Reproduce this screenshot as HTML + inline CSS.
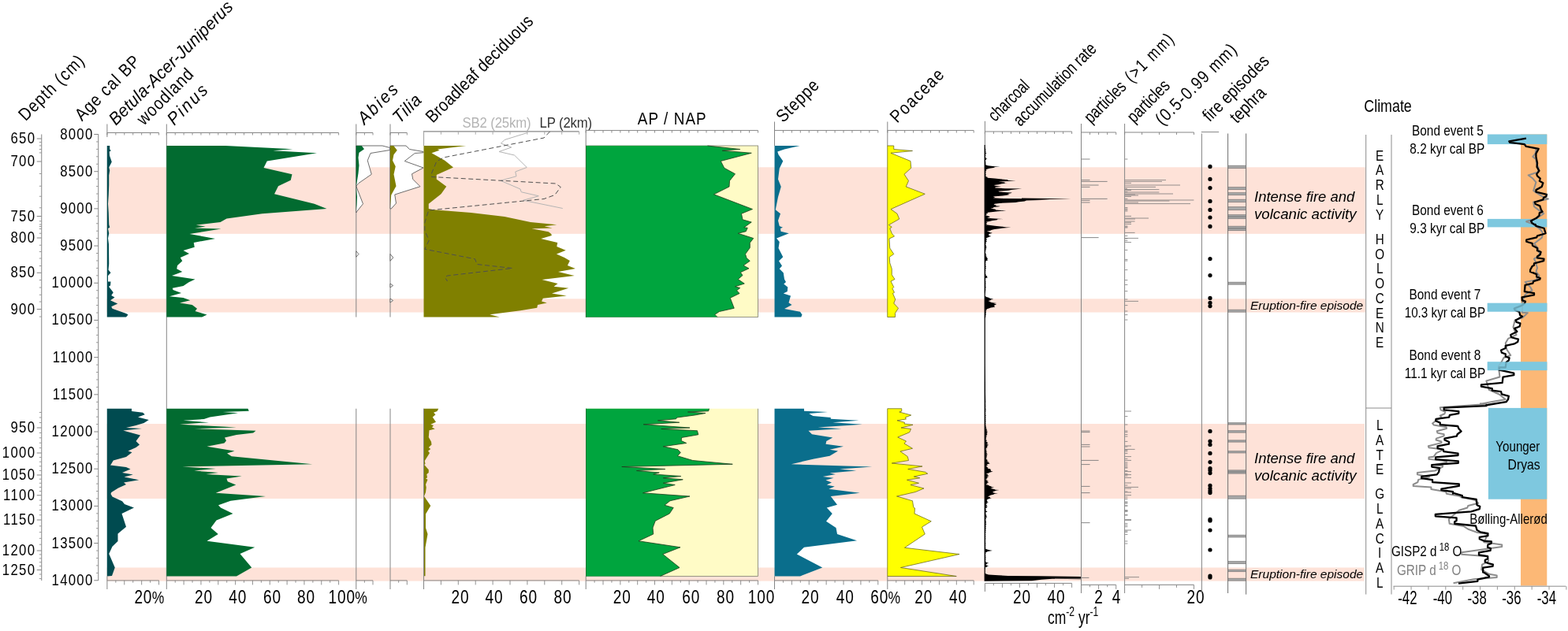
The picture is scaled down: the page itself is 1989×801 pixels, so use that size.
<!DOCTYPE html>
<html lang="en"><head><meta charset="utf-8"><title>Pollen, charcoal and climate diagram</title>
<style>
html,body{margin:0;padding:0;background:#fff;}
body{width:1989px;height:801px;overflow:hidden;}
svg{display:block;font-family:"Liberation Sans",Arial,Helvetica,sans-serif;}
text{white-space:pre;}
</style></head><body>
<svg width="1989" height="801" viewBox="0 0 1989 801">
<rect x="0" y="0" width="1989" height="801" fill="#ffffff"/>
<rect x="135.5" y="212.3" width="1596.4" height="84.5" fill="#FEE2D8"/>
<rect x="135.5" y="379.3" width="1596.4" height="17.2" fill="#FEE2D8"/>
<rect x="135.5" y="538" width="1595.5" height="95" fill="#FEE2D8"/>
<rect x="135.5" y="720.5" width="1595.1" height="17.1" fill="#FEE2D8"/>
<line x1="52.75" y1="170.5" x2="52.75" y2="737" stroke="#858585" stroke-width="1"/>
<line x1="49.75" y1="180.5" x2="52.75" y2="180.5" stroke="#858585" stroke-width="0.8"/>
<line x1="49.75" y1="184.9" x2="52.75" y2="184.9" stroke="#858585" stroke-width="0.8"/>
<line x1="49.75" y1="189.5" x2="52.75" y2="189.5" stroke="#858585" stroke-width="0.8"/>
<line x1="49.75" y1="193.9" x2="52.75" y2="193.9" stroke="#858585" stroke-width="0.8"/>
<line x1="49.75" y1="220.5" x2="52.75" y2="220.5" stroke="#858585" stroke-width="0.8"/>
<line x1="49.75" y1="236.25" x2="52.75" y2="236.25" stroke="#858585" stroke-width="0.8"/>
<line x1="49.75" y1="249.25" x2="52.75" y2="249.25" stroke="#858585" stroke-width="0.8"/>
<line x1="49.75" y1="263.75" x2="52.75" y2="263.75" stroke="#858585" stroke-width="0.8"/>
<line x1="49.75" y1="280.75" x2="52.75" y2="280.75" stroke="#858585" stroke-width="0.8"/>
<line x1="49.75" y1="285" x2="52.75" y2="285" stroke="#858585" stroke-width="0.8"/>
<line x1="49.75" y1="287.5" x2="52.75" y2="287.5" stroke="#858585" stroke-width="0.8"/>
<line x1="49.75" y1="290.5" x2="52.75" y2="290.5" stroke="#858585" stroke-width="0.8"/>
<line x1="49.75" y1="296.25" x2="52.75" y2="296.25" stroke="#858585" stroke-width="0.8"/>
<line x1="49.75" y1="311.25" x2="52.75" y2="311.25" stroke="#858585" stroke-width="0.8"/>
<line x1="49.75" y1="319.5" x2="52.75" y2="319.5" stroke="#858585" stroke-width="0.8"/>
<line x1="49.75" y1="328" x2="52.75" y2="328" stroke="#858585" stroke-width="0.8"/>
<line x1="49.75" y1="337.5" x2="52.75" y2="337.5" stroke="#858585" stroke-width="0.8"/>
<line x1="49.75" y1="355.5" x2="52.75" y2="355.5" stroke="#858585" stroke-width="0.8"/>
<line x1="49.75" y1="365" x2="52.75" y2="365" stroke="#858585" stroke-width="0.8"/>
<line x1="49.75" y1="374.25" x2="52.75" y2="374.25" stroke="#858585" stroke-width="0.8"/>
<line x1="49.75" y1="383" x2="52.75" y2="383" stroke="#858585" stroke-width="0.8"/>
<line x1="49.75" y1="402" x2="52.75" y2="402" stroke="#858585" stroke-width="0.8"/>
<line x1="49.75" y1="549.4" x2="52.75" y2="549.4" stroke="#858585" stroke-width="0.8"/>
<line x1="49.75" y1="555.8" x2="52.75" y2="555.8" stroke="#858585" stroke-width="0.8"/>
<line x1="49.75" y1="562.2" x2="52.75" y2="562.2" stroke="#858585" stroke-width="0.8"/>
<line x1="49.75" y1="568.6" x2="52.75" y2="568.6" stroke="#858585" stroke-width="0.8"/>
<line x1="49.75" y1="580.6" x2="52.75" y2="580.6" stroke="#858585" stroke-width="0.8"/>
<line x1="49.75" y1="586.2" x2="52.75" y2="586.2" stroke="#858585" stroke-width="0.8"/>
<line x1="49.75" y1="591.8" x2="52.75" y2="591.8" stroke="#858585" stroke-width="0.8"/>
<line x1="49.75" y1="597.4" x2="52.75" y2="597.4" stroke="#858585" stroke-width="0.8"/>
<line x1="49.75" y1="608.15" x2="52.75" y2="608.15" stroke="#858585" stroke-width="0.8"/>
<line x1="49.75" y1="613.3" x2="52.75" y2="613.3" stroke="#858585" stroke-width="0.8"/>
<line x1="49.75" y1="618.45" x2="52.75" y2="618.45" stroke="#858585" stroke-width="0.8"/>
<line x1="49.75" y1="623.6" x2="52.75" y2="623.6" stroke="#858585" stroke-width="0.8"/>
<line x1="49.75" y1="635" x2="52.75" y2="635" stroke="#858585" stroke-width="0.8"/>
<line x1="49.75" y1="641.25" x2="52.75" y2="641.25" stroke="#858585" stroke-width="0.8"/>
<line x1="49.75" y1="647.5" x2="52.75" y2="647.5" stroke="#858585" stroke-width="0.8"/>
<line x1="49.75" y1="653.75" x2="52.75" y2="653.75" stroke="#858585" stroke-width="0.8"/>
<line x1="49.75" y1="667.8" x2="52.75" y2="667.8" stroke="#858585" stroke-width="0.8"/>
<line x1="49.75" y1="675.6" x2="52.75" y2="675.6" stroke="#858585" stroke-width="0.8"/>
<line x1="49.75" y1="683.4" x2="52.75" y2="683.4" stroke="#858585" stroke-width="0.8"/>
<line x1="49.75" y1="691.2" x2="52.75" y2="691.2" stroke="#858585" stroke-width="0.8"/>
<line x1="49.75" y1="703.9" x2="52.75" y2="703.9" stroke="#858585" stroke-width="0.8"/>
<line x1="49.75" y1="708.8" x2="52.75" y2="708.8" stroke="#858585" stroke-width="0.8"/>
<line x1="49.75" y1="713.7" x2="52.75" y2="713.7" stroke="#858585" stroke-width="0.8"/>
<line x1="49.75" y1="718.6" x2="52.75" y2="718.6" stroke="#858585" stroke-width="0.8"/>
<line x1="49.75" y1="536.5" x2="52.75" y2="536.5" stroke="#858585" stroke-width="0.8"/>
<line x1="49.75" y1="530" x2="52.75" y2="530" stroke="#858585" stroke-width="0.8"/>
<line x1="49.75" y1="523.5" x2="52.75" y2="523.5" stroke="#858585" stroke-width="0.8"/>
<line x1="49.75" y1="729" x2="52.75" y2="729" stroke="#858585" stroke-width="0.8"/>
<line x1="49.75" y1="734.5" x2="52.75" y2="734.5" stroke="#858585" stroke-width="0.8"/>
<line x1="46.75" y1="176" x2="52.75" y2="176" stroke="#858585" stroke-width="1"/>
<text transform="translate(44,182) translate(-30.55,0) scale(0.84,1)" style="font-size:20px;letter-spacing:1.5px;" fill="#000">650</text>
<line x1="46.75" y1="205" x2="52.75" y2="205" stroke="#858585" stroke-width="1"/>
<text transform="translate(44,211) translate(-30.55,0) scale(0.84,1)" style="font-size:20px;letter-spacing:1.5px;" fill="#000">700</text>
<line x1="46.75" y1="274.5" x2="52.75" y2="274.5" stroke="#858585" stroke-width="1"/>
<text transform="translate(44,280.5) translate(-30.55,0) scale(0.84,1)" style="font-size:20px;letter-spacing:1.5px;" fill="#000">750</text>
<line x1="46.75" y1="302" x2="52.75" y2="302" stroke="#858585" stroke-width="1"/>
<text transform="translate(44,308) translate(-30.55,0) scale(0.84,1)" style="font-size:20px;letter-spacing:1.5px;" fill="#000">800</text>
<line x1="46.75" y1="346.25" x2="52.75" y2="346.25" stroke="#858585" stroke-width="1"/>
<text transform="translate(44,352.25) translate(-30.55,0) scale(0.84,1)" style="font-size:20px;letter-spacing:1.5px;" fill="#000">850</text>
<line x1="46.75" y1="392.5" x2="52.75" y2="392.5" stroke="#858585" stroke-width="1"/>
<text transform="translate(44,398.5) translate(-30.55,0) scale(0.84,1)" style="font-size:20px;letter-spacing:1.5px;" fill="#000">900</text>
<line x1="46.75" y1="543" x2="52.75" y2="543" stroke="#858585" stroke-width="1"/>
<text transform="translate(44,549) translate(-30.55,0) scale(0.84,1)" style="font-size:20px;letter-spacing:1.5px;" fill="#000">950</text>
<line x1="46.75" y1="575" x2="52.75" y2="575" stroke="#858585" stroke-width="1"/>
<text transform="translate(44,581) translate(-41.15,0) scale(0.84,1)" style="font-size:20px;letter-spacing:1.5px;" fill="#000">1000</text>
<line x1="46.75" y1="603" x2="52.75" y2="603" stroke="#858585" stroke-width="1"/>
<text transform="translate(44,609) translate(-41.15,0) scale(0.84,1)" style="font-size:20px;letter-spacing:1.5px;" fill="#000">1050</text>
<line x1="46.75" y1="628.75" x2="52.75" y2="628.75" stroke="#858585" stroke-width="1"/>
<text transform="translate(44,634.75) translate(-39.91,0) scale(0.84,1)" style="font-size:20px;letter-spacing:1.5px;" fill="#000">1100</text>
<line x1="46.75" y1="660" x2="52.75" y2="660" stroke="#858585" stroke-width="1"/>
<text transform="translate(44,666) translate(-39.91,0) scale(0.84,1)" style="font-size:20px;letter-spacing:1.5px;" fill="#000">1150</text>
<line x1="46.75" y1="699" x2="52.75" y2="699" stroke="#858585" stroke-width="1"/>
<text transform="translate(44,705) translate(-41.15,0) scale(0.84,1)" style="font-size:20px;letter-spacing:1.5px;" fill="#000">1200</text>
<line x1="46.75" y1="723.5" x2="52.75" y2="723.5" stroke="#858585" stroke-width="1"/>
<text transform="translate(44,729.5) translate(-41.15,0) scale(0.84,1)" style="font-size:20px;letter-spacing:1.5px;" fill="#000">1250</text>
<line x1="124.75" y1="170.3" x2="124.75" y2="737" stroke="#858585" stroke-width="1"/>
<line x1="119.25" y1="170.5" x2="124.75" y2="170.5" stroke="#858585" stroke-width="1"/>
<text transform="translate(117.3,176.5) translate(-41.15,0) scale(0.84,1)" style="font-size:20px;letter-spacing:1.5px;" fill="#000">8000</text>
<line x1="121.95" y1="179.94" x2="124.75" y2="179.94" stroke="#858585" stroke-width="0.8"/>
<line x1="121.95" y1="189.38" x2="124.75" y2="189.38" stroke="#858585" stroke-width="0.8"/>
<line x1="121.95" y1="198.81" x2="124.75" y2="198.81" stroke="#858585" stroke-width="0.8"/>
<line x1="121.95" y1="208.25" x2="124.75" y2="208.25" stroke="#858585" stroke-width="0.8"/>
<line x1="119.25" y1="217.69" x2="124.75" y2="217.69" stroke="#858585" stroke-width="1"/>
<text transform="translate(117.3,223.69) translate(-41.15,0) scale(0.84,1)" style="font-size:20px;letter-spacing:1.5px;" fill="#000">8500</text>
<line x1="121.95" y1="227.13" x2="124.75" y2="227.13" stroke="#858585" stroke-width="0.8"/>
<line x1="121.95" y1="236.57" x2="124.75" y2="236.57" stroke="#858585" stroke-width="0.8"/>
<line x1="121.95" y1="246" x2="124.75" y2="246" stroke="#858585" stroke-width="0.8"/>
<line x1="121.95" y1="255.44" x2="124.75" y2="255.44" stroke="#858585" stroke-width="0.8"/>
<line x1="119.25" y1="264.88" x2="124.75" y2="264.88" stroke="#858585" stroke-width="1"/>
<text transform="translate(117.3,270.88) translate(-41.15,0) scale(0.84,1)" style="font-size:20px;letter-spacing:1.5px;" fill="#000">9000</text>
<line x1="121.95" y1="274.32" x2="124.75" y2="274.32" stroke="#858585" stroke-width="0.8"/>
<line x1="121.95" y1="283.76" x2="124.75" y2="283.76" stroke="#858585" stroke-width="0.8"/>
<line x1="121.95" y1="293.19" x2="124.75" y2="293.19" stroke="#858585" stroke-width="0.8"/>
<line x1="121.95" y1="302.63" x2="124.75" y2="302.63" stroke="#858585" stroke-width="0.8"/>
<line x1="119.25" y1="312.07" x2="124.75" y2="312.07" stroke="#858585" stroke-width="1"/>
<text transform="translate(117.3,318.07) translate(-41.15,0) scale(0.84,1)" style="font-size:20px;letter-spacing:1.5px;" fill="#000">9500</text>
<line x1="121.95" y1="321.51" x2="124.75" y2="321.51" stroke="#858585" stroke-width="0.8"/>
<line x1="121.95" y1="330.95" x2="124.75" y2="330.95" stroke="#858585" stroke-width="0.8"/>
<line x1="121.95" y1="340.38" x2="124.75" y2="340.38" stroke="#858585" stroke-width="0.8"/>
<line x1="121.95" y1="349.82" x2="124.75" y2="349.82" stroke="#858585" stroke-width="0.8"/>
<line x1="119.25" y1="359.26" x2="124.75" y2="359.26" stroke="#858585" stroke-width="1"/>
<text transform="translate(117.3,365.26) translate(-51.76,0) scale(0.84,1)" style="font-size:20px;letter-spacing:1.5px;" fill="#000">10000</text>
<line x1="121.95" y1="368.7" x2="124.75" y2="368.7" stroke="#858585" stroke-width="0.8"/>
<line x1="121.95" y1="378.14" x2="124.75" y2="378.14" stroke="#858585" stroke-width="0.8"/>
<line x1="121.95" y1="387.57" x2="124.75" y2="387.57" stroke="#858585" stroke-width="0.8"/>
<line x1="121.95" y1="397.01" x2="124.75" y2="397.01" stroke="#858585" stroke-width="0.8"/>
<line x1="119.25" y1="406.45" x2="124.75" y2="406.45" stroke="#858585" stroke-width="1"/>
<text transform="translate(117.3,412.45) translate(-51.76,0) scale(0.84,1)" style="font-size:20px;letter-spacing:1.5px;" fill="#000">10500</text>
<line x1="121.95" y1="415.89" x2="124.75" y2="415.89" stroke="#858585" stroke-width="0.8"/>
<line x1="121.95" y1="425.33" x2="124.75" y2="425.33" stroke="#858585" stroke-width="0.8"/>
<line x1="121.95" y1="434.76" x2="124.75" y2="434.76" stroke="#858585" stroke-width="0.8"/>
<line x1="121.95" y1="444.2" x2="124.75" y2="444.2" stroke="#858585" stroke-width="0.8"/>
<line x1="119.25" y1="453.64" x2="124.75" y2="453.64" stroke="#858585" stroke-width="1"/>
<text transform="translate(117.3,459.64) translate(-50.51,0) scale(0.84,1)" style="font-size:20px;letter-spacing:1.5px;" fill="#000">11000</text>
<line x1="121.95" y1="463.08" x2="124.75" y2="463.08" stroke="#858585" stroke-width="0.8"/>
<line x1="121.95" y1="472.52" x2="124.75" y2="472.52" stroke="#858585" stroke-width="0.8"/>
<line x1="121.95" y1="481.95" x2="124.75" y2="481.95" stroke="#858585" stroke-width="0.8"/>
<line x1="121.95" y1="491.39" x2="124.75" y2="491.39" stroke="#858585" stroke-width="0.8"/>
<line x1="119.25" y1="500.83" x2="124.75" y2="500.83" stroke="#858585" stroke-width="1"/>
<text transform="translate(117.3,506.83) translate(-50.51,0) scale(0.84,1)" style="font-size:20px;letter-spacing:1.5px;" fill="#000">11500</text>
<line x1="121.95" y1="510.27" x2="124.75" y2="510.27" stroke="#858585" stroke-width="0.8"/>
<line x1="121.95" y1="519.71" x2="124.75" y2="519.71" stroke="#858585" stroke-width="0.8"/>
<line x1="121.95" y1="529.14" x2="124.75" y2="529.14" stroke="#858585" stroke-width="0.8"/>
<line x1="121.95" y1="538.58" x2="124.75" y2="538.58" stroke="#858585" stroke-width="0.8"/>
<line x1="119.25" y1="548.02" x2="124.75" y2="548.02" stroke="#858585" stroke-width="1"/>
<text transform="translate(117.3,554.02) translate(-51.76,0) scale(0.84,1)" style="font-size:20px;letter-spacing:1.5px;" fill="#000">12000</text>
<line x1="121.95" y1="557.46" x2="124.75" y2="557.46" stroke="#858585" stroke-width="0.8"/>
<line x1="121.95" y1="566.9" x2="124.75" y2="566.9" stroke="#858585" stroke-width="0.8"/>
<line x1="121.95" y1="576.33" x2="124.75" y2="576.33" stroke="#858585" stroke-width="0.8"/>
<line x1="121.95" y1="585.77" x2="124.75" y2="585.77" stroke="#858585" stroke-width="0.8"/>
<line x1="119.25" y1="595.21" x2="124.75" y2="595.21" stroke="#858585" stroke-width="1"/>
<text transform="translate(117.3,601.21) translate(-51.76,0) scale(0.84,1)" style="font-size:20px;letter-spacing:1.5px;" fill="#000">12500</text>
<line x1="121.95" y1="604.65" x2="124.75" y2="604.65" stroke="#858585" stroke-width="0.8"/>
<line x1="121.95" y1="614.09" x2="124.75" y2="614.09" stroke="#858585" stroke-width="0.8"/>
<line x1="121.95" y1="623.52" x2="124.75" y2="623.52" stroke="#858585" stroke-width="0.8"/>
<line x1="121.95" y1="632.96" x2="124.75" y2="632.96" stroke="#858585" stroke-width="0.8"/>
<line x1="119.25" y1="642.4" x2="124.75" y2="642.4" stroke="#858585" stroke-width="1"/>
<text transform="translate(117.3,648.4) translate(-51.76,0) scale(0.84,1)" style="font-size:20px;letter-spacing:1.5px;" fill="#000">13000</text>
<line x1="121.95" y1="651.84" x2="124.75" y2="651.84" stroke="#858585" stroke-width="0.8"/>
<line x1="121.95" y1="661.28" x2="124.75" y2="661.28" stroke="#858585" stroke-width="0.8"/>
<line x1="121.95" y1="670.71" x2="124.75" y2="670.71" stroke="#858585" stroke-width="0.8"/>
<line x1="121.95" y1="680.15" x2="124.75" y2="680.15" stroke="#858585" stroke-width="0.8"/>
<line x1="119.25" y1="689.59" x2="124.75" y2="689.59" stroke="#858585" stroke-width="1"/>
<text transform="translate(117.3,695.59) translate(-51.76,0) scale(0.84,1)" style="font-size:20px;letter-spacing:1.5px;" fill="#000">13500</text>
<line x1="121.95" y1="699.03" x2="124.75" y2="699.03" stroke="#858585" stroke-width="0.8"/>
<line x1="121.95" y1="708.47" x2="124.75" y2="708.47" stroke="#858585" stroke-width="0.8"/>
<line x1="121.95" y1="717.9" x2="124.75" y2="717.9" stroke="#858585" stroke-width="0.8"/>
<line x1="121.95" y1="727.34" x2="124.75" y2="727.34" stroke="#858585" stroke-width="0.8"/>
<line x1="119.25" y1="736.78" x2="124.75" y2="736.78" stroke="#858585" stroke-width="1"/>
<text transform="translate(117.3,742.78) translate(-51.76,0) scale(0.84,1)" style="font-size:20px;letter-spacing:1.5px;" fill="#000">14000</text>
<line x1="135.9" y1="157.5" x2="135.9" y2="174" stroke="#858585" stroke-width="1"/>
<line x1="135.9" y1="168.5" x2="201.6" y2="168.5" stroke="#858585" stroke-width="1"/>
<line x1="135.9" y1="168.5" x2="135.9" y2="171.5" stroke="#858585" stroke-width="0.9"/>
<line x1="146.84" y1="168.5" x2="146.84" y2="171.5" stroke="#858585" stroke-width="0.9"/>
<line x1="157.78" y1="168.5" x2="157.78" y2="171.5" stroke="#858585" stroke-width="0.9"/>
<line x1="168.72" y1="168.5" x2="168.72" y2="171.5" stroke="#858585" stroke-width="0.9"/>
<line x1="179.66" y1="168.5" x2="179.66" y2="171.5" stroke="#858585" stroke-width="0.9"/>
<line x1="190.6" y1="168.5" x2="190.6" y2="171.5" stroke="#858585" stroke-width="0.9"/>
<line x1="201.54" y1="168.5" x2="201.54" y2="171.5" stroke="#858585" stroke-width="0.9"/>
<line x1="135.9" y1="736.9" x2="201.6" y2="736.9" stroke="#858585" stroke-width="1"/>
<line x1="146.84" y1="736.9" x2="146.84" y2="739.7" stroke="#858585" stroke-width="0.9"/>
<line x1="157.78" y1="736.9" x2="157.78" y2="742.4" stroke="#858585" stroke-width="0.9"/>
<line x1="168.72" y1="736.9" x2="168.72" y2="739.7" stroke="#858585" stroke-width="0.9"/>
<line x1="179.66" y1="736.9" x2="179.66" y2="742.4" stroke="#858585" stroke-width="0.9"/>
<line x1="190.6" y1="736.9" x2="190.6" y2="739.7" stroke="#858585" stroke-width="0.9"/>
<line x1="201.54" y1="736.9" x2="201.54" y2="742.4" stroke="#858585" stroke-width="0.9"/>
<line x1="135.9" y1="731.5" x2="135.9" y2="748" stroke="#858585" stroke-width="1"/>
<polygon points="135.75,185 139.25,185 139.25,189.5 140.75,191.25 138.75,192.5 139,197.5 141.75,205.5 138.25,212.5 139.25,216.25 138.25,222.5 138.25,235 137.75,247.5 137,258.75 137.75,270 138.25,285 139.25,288.75 137,290 138.25,296.25 137,302.5 138,310 138.25,335 137.5,342.5 140.5,346.25 137,350 137,357.5 140.5,357.5 140,362.5 138,363.75 143.75,371.25 141.25,375 145.5,377.5 140,381.25 149.25,385.5 141.25,389.25 142.5,391.75 160,398 162.5,399.5 160,402.5 135.75,402.5" fill="#004B50"/>
<polygon points="135.75,518.75 167,518.75 167,522 181.25,523.75 183.75,526.25 175,529.5 188.75,533 182.5,537 172.5,540 160,543 180,544 156.25,546.5 178,552.5 172.5,560 177,564.5 172.5,568 162.5,572.5 167.5,574.25 160,580 143.75,584.5 141.25,588.75 140,590.5 160,593 165.5,595.5 155,600 168.75,602.5 157.5,605.5 176.25,609.25 157,612.5 160,615 150,619.5 141.25,625 140.5,627 142.5,630.5 155,636.25 158,640 170,644.5 154.5,652 160,668.75 149.5,677.5 149.5,687 142.5,693.75 138.25,703 145.75,720.5 142,731 135.75,731.5" fill="#004B50"/>
<text transform="translate(170.4,765.7) scale(0.81,1)" style="font-size:23.5px;letter-spacing:1.1px" fill="#000">20<tspan dx="-0.8" style="font-size:21.62px;letter-spacing:0">%</tspan></text>
<line x1="211.3" y1="157.5" x2="211.3" y2="748" stroke="#858585" stroke-width="1"/>
<line x1="211.3" y1="168.5" x2="429.6" y2="168.5" stroke="#858585" stroke-width="1"/>
<line x1="211.3" y1="168.5" x2="211.3" y2="171.5" stroke="#858585" stroke-width="0.9"/>
<line x1="222.22" y1="168.5" x2="222.22" y2="171.5" stroke="#858585" stroke-width="0.9"/>
<line x1="233.13" y1="168.5" x2="233.13" y2="171.5" stroke="#858585" stroke-width="0.9"/>
<line x1="244.05" y1="168.5" x2="244.05" y2="171.5" stroke="#858585" stroke-width="0.9"/>
<line x1="254.96" y1="168.5" x2="254.96" y2="171.5" stroke="#858585" stroke-width="0.9"/>
<line x1="265.88" y1="168.5" x2="265.88" y2="171.5" stroke="#858585" stroke-width="0.9"/>
<line x1="276.79" y1="168.5" x2="276.79" y2="171.5" stroke="#858585" stroke-width="0.9"/>
<line x1="287.71" y1="168.5" x2="287.71" y2="171.5" stroke="#858585" stroke-width="0.9"/>
<line x1="298.62" y1="168.5" x2="298.62" y2="171.5" stroke="#858585" stroke-width="0.9"/>
<line x1="309.53" y1="168.5" x2="309.53" y2="171.5" stroke="#858585" stroke-width="0.9"/>
<line x1="320.45" y1="168.5" x2="320.45" y2="171.5" stroke="#858585" stroke-width="0.9"/>
<line x1="331.37" y1="168.5" x2="331.37" y2="171.5" stroke="#858585" stroke-width="0.9"/>
<line x1="342.28" y1="168.5" x2="342.28" y2="171.5" stroke="#858585" stroke-width="0.9"/>
<line x1="353.19" y1="168.5" x2="353.19" y2="171.5" stroke="#858585" stroke-width="0.9"/>
<line x1="364.11" y1="168.5" x2="364.11" y2="171.5" stroke="#858585" stroke-width="0.9"/>
<line x1="375.02" y1="168.5" x2="375.02" y2="171.5" stroke="#858585" stroke-width="0.9"/>
<line x1="385.94" y1="168.5" x2="385.94" y2="171.5" stroke="#858585" stroke-width="0.9"/>
<line x1="396.86" y1="168.5" x2="396.86" y2="171.5" stroke="#858585" stroke-width="0.9"/>
<line x1="407.77" y1="168.5" x2="407.77" y2="171.5" stroke="#858585" stroke-width="0.9"/>
<line x1="418.69" y1="168.5" x2="418.69" y2="171.5" stroke="#858585" stroke-width="0.9"/>
<line x1="429.6" y1="168.5" x2="429.6" y2="171.5" stroke="#858585" stroke-width="0.9"/>
<line x1="211.3" y1="736.9" x2="429.6" y2="736.9" stroke="#858585" stroke-width="1"/>
<line x1="222.22" y1="736.9" x2="222.22" y2="739.7" stroke="#858585" stroke-width="0.9"/>
<line x1="233.13" y1="736.9" x2="233.13" y2="742.4" stroke="#858585" stroke-width="0.9"/>
<line x1="244.05" y1="736.9" x2="244.05" y2="739.7" stroke="#858585" stroke-width="0.9"/>
<line x1="254.96" y1="736.9" x2="254.96" y2="742.4" stroke="#858585" stroke-width="0.9"/>
<line x1="265.88" y1="736.9" x2="265.88" y2="739.7" stroke="#858585" stroke-width="0.9"/>
<line x1="276.79" y1="736.9" x2="276.79" y2="742.4" stroke="#858585" stroke-width="0.9"/>
<line x1="287.71" y1="736.9" x2="287.71" y2="739.7" stroke="#858585" stroke-width="0.9"/>
<line x1="298.62" y1="736.9" x2="298.62" y2="742.4" stroke="#858585" stroke-width="0.9"/>
<line x1="309.53" y1="736.9" x2="309.53" y2="739.7" stroke="#858585" stroke-width="0.9"/>
<line x1="320.45" y1="736.9" x2="320.45" y2="742.4" stroke="#858585" stroke-width="0.9"/>
<line x1="331.37" y1="736.9" x2="331.37" y2="739.7" stroke="#858585" stroke-width="0.9"/>
<line x1="342.28" y1="736.9" x2="342.28" y2="742.4" stroke="#858585" stroke-width="0.9"/>
<line x1="353.19" y1="736.9" x2="353.19" y2="739.7" stroke="#858585" stroke-width="0.9"/>
<line x1="364.11" y1="736.9" x2="364.11" y2="742.4" stroke="#858585" stroke-width="0.9"/>
<line x1="375.02" y1="736.9" x2="375.02" y2="739.7" stroke="#858585" stroke-width="0.9"/>
<line x1="385.94" y1="736.9" x2="385.94" y2="742.4" stroke="#858585" stroke-width="0.9"/>
<line x1="396.86" y1="736.9" x2="396.86" y2="739.7" stroke="#858585" stroke-width="0.9"/>
<line x1="407.77" y1="736.9" x2="407.77" y2="742.4" stroke="#858585" stroke-width="0.9"/>
<line x1="418.69" y1="736.9" x2="418.69" y2="739.7" stroke="#858585" stroke-width="0.9"/>
<line x1="429.6" y1="736.9" x2="429.6" y2="742.4" stroke="#858585" stroke-width="0.9"/>
<polygon points="211.25,185 286.25,185 371.25,189.25 346.25,191.25 402,194.25 338.75,204.5 334.5,213 370.5,221.25 368.75,228.75 353,236.25 348,246.25 398.75,258.75 414.5,265 332.5,271.25 287.5,277.5 279.5,282 248.75,285.75 260.75,287.5 247,289.5 280.5,290.5 240.5,297 273,303 245.75,308 246.75,313.75 232.5,318 240,322 228.75,327 231.25,331.25 225,337 224.25,341.25 231.25,345 218,350 247.5,354.5 239.5,358.25 232.5,363 218.75,365.75 219.5,368 230,372 215,376.25 232.5,378 241.25,381.25 228,384.5 243.75,387 250,391.75 247.5,395 262.5,399.5 256.25,402.5 211.25,402.5" fill="#026B30"/>
<polygon points="211.25,518.75 314.5,518.75 315.75,521.75 282.5,523 302,524.25 266.25,529.5 258.75,532 232.5,533.75 265,536.25 228,538.75 300,542.5 246.25,544.25 324.5,546.75 321.25,549.5 300,552 285,555.5 287,559.5 284.5,562.5 262.5,566.75 297.5,572.5 288,575.5 293.75,579.25 396.25,589.25 231.25,592.5 273.75,595 246.25,597.5 277,600 261.25,602 306.75,604.5 287.5,607.5 288.75,611.25 299.25,615.5 273.75,625.75 337,630 292.5,635.75 277,641.25 280,644.5 295.5,652 274.5,660.5 267.5,670 276.75,678 262.5,686.75 323.25,694.75 304.5,703 319.25,720.5 300,731.5 211.25,731.5" fill="#026B30"/>
<text transform="translate(258,765.7) translate(-11.03,0) scale(0.81,1)" style="font-size:23.5px;letter-spacing:1.1px;" fill="#000">20</text>
<text transform="translate(301.25,765.7) translate(-11.03,0) scale(0.81,1)" style="font-size:23.5px;letter-spacing:1.1px;" fill="#000">40</text>
<text transform="translate(345,765.7) translate(-11.03,0) scale(0.81,1)" style="font-size:23.5px;letter-spacing:1.1px;" fill="#000">60</text>
<text transform="translate(388,765.7) translate(-11.03,0) scale(0.81,1)" style="font-size:23.5px;letter-spacing:1.1px;" fill="#000">80</text>
<text transform="translate(416.6,765.7) scale(0.81,1)" style="font-size:23.5px;letter-spacing:1.1px" fill="#000">100<tspan dx="-0.8" style="font-size:21.62px;letter-spacing:0">%</tspan></text>
<line x1="451.8" y1="157.5" x2="451.8" y2="402.5" stroke="#858585" stroke-width="1"/>
<line x1="451.8" y1="518.75" x2="451.8" y2="748" stroke="#858585" stroke-width="1"/>
<line x1="451.8" y1="168.5" x2="473" y2="168.5" stroke="#858585" stroke-width="1"/>
<line x1="451.8" y1="168.5" x2="451.8" y2="171.5" stroke="#858585" stroke-width="0.9"/>
<line x1="462.4" y1="168.5" x2="462.4" y2="171.5" stroke="#858585" stroke-width="0.9"/>
<line x1="473" y1="168.5" x2="473" y2="171.5" stroke="#858585" stroke-width="0.9"/>
<line x1="451.8" y1="736.9" x2="473" y2="736.9" stroke="#858585" stroke-width="1"/>
<line x1="462.4" y1="736.9" x2="462.4" y2="739.7" stroke="#858585" stroke-width="0.9"/>
<line x1="473" y1="736.9" x2="473" y2="742.4" stroke="#858585" stroke-width="0.9"/>
<polygon points="451.75,185 485,185 494.5,187.5 494.5,190.5 470,194.5 466.25,203.75 471.25,221.25 455,232.5 451.75,236.25 460.5,258.75 452.5,268.75 451.75,270" fill="#ffffff" stroke="#5c5c5c" stroke-width="0.9" stroke-linejoin="round"/>
<polygon points="451.75,318.75 455,322.5 451.75,326.25" fill="#ffffff" stroke="#5c5c5c" stroke-width="0.9" stroke-linejoin="round"/>
<polygon points="451.75,185 458.75,185 462,189.25 455.5,193.75 454.5,200 455.5,210 454.5,220 452.5,232.5 451.75,236.25 453,250 452.5,260 451.75,267.5" fill="#026B30"/>
<line x1="495" y1="157.5" x2="495" y2="402.5" stroke="#858585" stroke-width="1"/>
<line x1="495" y1="518.75" x2="495" y2="748" stroke="#858585" stroke-width="1"/>
<line x1="495" y1="168.5" x2="516.3" y2="168.5" stroke="#858585" stroke-width="1"/>
<line x1="495" y1="168.5" x2="495" y2="171.5" stroke="#858585" stroke-width="0.9"/>
<line x1="505.65" y1="168.5" x2="505.65" y2="171.5" stroke="#858585" stroke-width="0.9"/>
<line x1="516.3" y1="168.5" x2="516.3" y2="171.5" stroke="#858585" stroke-width="0.9"/>
<line x1="495" y1="736.9" x2="516.3" y2="736.9" stroke="#858585" stroke-width="1"/>
<line x1="505.65" y1="736.9" x2="505.65" y2="739.7" stroke="#858585" stroke-width="0.9"/>
<line x1="516.3" y1="736.9" x2="516.3" y2="742.4" stroke="#858585" stroke-width="0.9"/>
<polygon points="495,185 515,185 519.5,189.5 537,192.5 537,193.75 526.25,194.5 513.25,204.5 537,213 522.5,220.75 523.75,227.5 533,236.75 500.75,247 502.5,258 496.25,265 495,265" fill="#ffffff" stroke="#5c5c5c" stroke-width="0.9" stroke-linejoin="round"/>
<polygon points="495,322.5 498.75,327 495,331.25" fill="#ffffff" stroke="#5c5c5c" stroke-width="0.9" stroke-linejoin="round"/>
<polygon points="495,360 498.5,362.5 495,365" fill="#ffffff" stroke="#5c5c5c" stroke-width="0.9" stroke-linejoin="round"/>
<polygon points="495,379 498.5,381.5 495,384" fill="#ffffff" stroke="#5c5c5c" stroke-width="0.9" stroke-linejoin="round"/>
<polygon points="495,185 499.25,185 503.75,190.75 499.5,196.25 498,203.75 501.75,211.25 499.5,221.25 502.5,236.25 496.25,247.5 495,262.5" fill="#808000"/>
<polygon points="537.5,185 591.25,185 555,189.5 557.5,190.75 547.5,194.25 564.25,203.75 575,212.5 553.75,222 553.75,227.5 566.25,236.75 559.5,246.25 543.75,258.75 543.75,265 550,266.25 597.5,270 640,275 673,282 673.1,282 706.3,285.3 690.6,287.2 700.6,289.4 674.4,290.3 695.8,294.2 699.3,296.9 699.8,299 686.2,303 707.2,308 706.3,313 717.7,317.7 705.9,322.6 716,327 722.8,331 719.9,337 729.9,341 708,345 728.75,350 687.5,355 707.5,360 702.5,363.75 721.25,365.75 700,372.5 718.75,375.5 688.75,378.75 687,382.5 693.75,384.5 682,387 681.25,390.75 660,394.25 621.25,399.25 633.75,402.5 537.5,402.5" fill="#808000"/>
<polygon points="537.5,518.75 556.25,518.75 554.5,522 550,523.75 552.5,526.25 548.75,529.5 553,535.75 546.25,538.75 550,540 548,542.5 551.75,544.5 544.5,546.25 543.75,555 547,560.75 547.5,564.5 543.75,568 546.25,570 543,572.5 545,575 538.75,585 539.5,588.75 538.25,590 543.75,596.25 543.75,600 541.25,602 542,606.25 540,607.5 542.5,608.75 540,615 540.75,618.75 540,625 538,630 546.25,642 540,652.5 540,670 542.5,678 539.5,695 539.5,731.25 537.5,731.25" fill="#808000"/>
<line x1="537.5" y1="166.9" x2="537.5" y2="185" stroke="#a8a8a8" stroke-width="1.2"/>
<line x1="537.5" y1="518.75" x2="537.5" y2="748" stroke="#858585" stroke-width="1"/>
<line x1="536.9" y1="166.9" x2="734.5" y2="166.9" stroke="#a8a8a8" stroke-width="1.6"/>
<line x1="537.5" y1="166.9" x2="537.5" y2="170.7" stroke="#a8a8a8" stroke-width="1"/>
<line x1="559.4" y1="166.9" x2="559.4" y2="170.7" stroke="#a8a8a8" stroke-width="1"/>
<line x1="581.3" y1="166.9" x2="581.3" y2="170.7" stroke="#a8a8a8" stroke-width="1"/>
<line x1="603.2" y1="166.9" x2="603.2" y2="170.7" stroke="#a8a8a8" stroke-width="1"/>
<line x1="625.1" y1="166.9" x2="625.1" y2="170.7" stroke="#a8a8a8" stroke-width="1"/>
<line x1="647" y1="166.9" x2="647" y2="170.7" stroke="#a8a8a8" stroke-width="1"/>
<line x1="668.9" y1="166.9" x2="668.9" y2="170.7" stroke="#a8a8a8" stroke-width="1"/>
<line x1="690.8" y1="166.9" x2="690.8" y2="170.7" stroke="#a8a8a8" stroke-width="1"/>
<line x1="712.7" y1="166.9" x2="712.7" y2="170.7" stroke="#a8a8a8" stroke-width="1"/>
<line x1="734.6" y1="166.9" x2="734.6" y2="170.7" stroke="#a8a8a8" stroke-width="1"/>
<line x1="537.5" y1="736.9" x2="734.6" y2="736.9" stroke="#858585" stroke-width="1"/>
<line x1="559.4" y1="736.9" x2="559.4" y2="742.4" stroke="#858585" stroke-width="0.9"/>
<line x1="581.3" y1="736.9" x2="581.3" y2="742.4" stroke="#858585" stroke-width="0.9"/>
<line x1="603.2" y1="736.9" x2="603.2" y2="742.4" stroke="#858585" stroke-width="0.9"/>
<line x1="625.1" y1="736.9" x2="625.1" y2="742.4" stroke="#858585" stroke-width="0.9"/>
<line x1="647" y1="736.9" x2="647" y2="742.4" stroke="#858585" stroke-width="0.9"/>
<line x1="668.9" y1="736.9" x2="668.9" y2="742.4" stroke="#858585" stroke-width="0.9"/>
<line x1="690.8" y1="736.9" x2="690.8" y2="742.4" stroke="#858585" stroke-width="0.9"/>
<line x1="712.7" y1="736.9" x2="712.7" y2="742.4" stroke="#858585" stroke-width="0.9"/>
<line x1="734.6" y1="736.9" x2="734.6" y2="742.4" stroke="#858585" stroke-width="0.9"/>
<text transform="translate(583.5,765.7) translate(-11.03,0) scale(0.81,1)" style="font-size:23.5px;letter-spacing:1.1px;" fill="#000">20</text>
<text transform="translate(626.5,765.7) translate(-11.03,0) scale(0.81,1)" style="font-size:23.5px;letter-spacing:1.1px;" fill="#000">40</text>
<text transform="translate(670,765.7) translate(-11.03,0) scale(0.81,1)" style="font-size:23.5px;letter-spacing:1.1px;" fill="#000">60</text>
<text transform="translate(713.5,765.7) translate(-11.03,0) scale(0.81,1)" style="font-size:23.5px;letter-spacing:1.1px;" fill="#000">80</text>
<polyline points="668.25,168.75 640,177.5 635.5,182 648.75,187 633,192.5 652.5,197 668.25,212.5 653.75,218 655,223.75 635,229.25 660,240 661.25,243.75 683.25,248.75 663.75,254.25 713.75,264.5" fill="none" stroke="#b4b4b4" stroke-width="1" stroke-linejoin="round"/>
<polyline points="697.5,167 690,175 562.5,200 553.75,205 547.5,220 547.5,224.5 705,233 711.25,237.5 703.75,247.5 690,252.5 543.75,267 538.75,282.5 538.75,292.5 544.25,305 538.75,316.25 602.5,328.75 605,335.5 650,340.5 567.5,350 564.5,352 567.5,357" fill="none" stroke="#4f4f4f" stroke-width="1" stroke-linejoin="round" stroke-dasharray="6 3.5"/>
<text transform="translate(586.6,161.6) scale(0.95,1)" style="font-size:17.6px;letter-spacing:-0.15px;" fill="#b4b4b4">SB2 (25km)</text>
<text transform="translate(684.6,161.6) scale(0.95,1)" style="font-size:17.6px;letter-spacing:-0.15px;" fill="#333">LP (2km)</text>
<line x1="743.2" y1="165.6" x2="961.5" y2="165.6" stroke="#858585" stroke-width="1"/>
<line x1="743.2" y1="165.6" x2="743.2" y2="168.6" stroke="#858585" stroke-width="0.9"/>
<line x1="754.12" y1="165.6" x2="754.12" y2="168.6" stroke="#858585" stroke-width="0.9"/>
<line x1="765.03" y1="165.6" x2="765.03" y2="168.6" stroke="#858585" stroke-width="0.9"/>
<line x1="775.95" y1="165.6" x2="775.95" y2="168.6" stroke="#858585" stroke-width="0.9"/>
<line x1="786.86" y1="165.6" x2="786.86" y2="168.6" stroke="#858585" stroke-width="0.9"/>
<line x1="797.78" y1="165.6" x2="797.78" y2="168.6" stroke="#858585" stroke-width="0.9"/>
<line x1="808.69" y1="165.6" x2="808.69" y2="168.6" stroke="#858585" stroke-width="0.9"/>
<line x1="819.61" y1="165.6" x2="819.61" y2="168.6" stroke="#858585" stroke-width="0.9"/>
<line x1="830.52" y1="165.6" x2="830.52" y2="168.6" stroke="#858585" stroke-width="0.9"/>
<line x1="841.44" y1="165.6" x2="841.44" y2="168.6" stroke="#858585" stroke-width="0.9"/>
<line x1="852.35" y1="165.6" x2="852.35" y2="168.6" stroke="#858585" stroke-width="0.9"/>
<line x1="863.27" y1="165.6" x2="863.27" y2="168.6" stroke="#858585" stroke-width="0.9"/>
<line x1="874.18" y1="165.6" x2="874.18" y2="168.6" stroke="#858585" stroke-width="0.9"/>
<line x1="885.1" y1="165.6" x2="885.1" y2="168.6" stroke="#858585" stroke-width="0.9"/>
<line x1="896.01" y1="165.6" x2="896.01" y2="168.6" stroke="#858585" stroke-width="0.9"/>
<line x1="906.93" y1="165.6" x2="906.93" y2="168.6" stroke="#858585" stroke-width="0.9"/>
<line x1="917.84" y1="165.6" x2="917.84" y2="168.6" stroke="#858585" stroke-width="0.9"/>
<line x1="928.75" y1="165.6" x2="928.75" y2="168.6" stroke="#858585" stroke-width="0.9"/>
<line x1="939.67" y1="165.6" x2="939.67" y2="168.6" stroke="#858585" stroke-width="0.9"/>
<line x1="950.59" y1="165.6" x2="950.59" y2="168.6" stroke="#858585" stroke-width="0.9"/>
<line x1="961.5" y1="165.6" x2="961.5" y2="168.6" stroke="#858585" stroke-width="0.9"/>
<line x1="743.2" y1="160.5" x2="743.2" y2="185" stroke="#858585" stroke-width="1"/>
<line x1="743.2" y1="736.9" x2="961.5" y2="736.9" stroke="#858585" stroke-width="1"/>
<line x1="754.12" y1="736.9" x2="754.12" y2="739.7" stroke="#858585" stroke-width="0.9"/>
<line x1="765.03" y1="736.9" x2="765.03" y2="742.4" stroke="#858585" stroke-width="0.9"/>
<line x1="775.95" y1="736.9" x2="775.95" y2="739.7" stroke="#858585" stroke-width="0.9"/>
<line x1="786.86" y1="736.9" x2="786.86" y2="742.4" stroke="#858585" stroke-width="0.9"/>
<line x1="797.78" y1="736.9" x2="797.78" y2="739.7" stroke="#858585" stroke-width="0.9"/>
<line x1="808.69" y1="736.9" x2="808.69" y2="742.4" stroke="#858585" stroke-width="0.9"/>
<line x1="819.61" y1="736.9" x2="819.61" y2="739.7" stroke="#858585" stroke-width="0.9"/>
<line x1="830.52" y1="736.9" x2="830.52" y2="742.4" stroke="#858585" stroke-width="0.9"/>
<line x1="841.44" y1="736.9" x2="841.44" y2="739.7" stroke="#858585" stroke-width="0.9"/>
<line x1="852.35" y1="736.9" x2="852.35" y2="742.4" stroke="#858585" stroke-width="0.9"/>
<line x1="863.27" y1="736.9" x2="863.27" y2="739.7" stroke="#858585" stroke-width="0.9"/>
<line x1="874.18" y1="736.9" x2="874.18" y2="742.4" stroke="#858585" stroke-width="0.9"/>
<line x1="885.1" y1="736.9" x2="885.1" y2="739.7" stroke="#858585" stroke-width="0.9"/>
<line x1="896.01" y1="736.9" x2="896.01" y2="742.4" stroke="#858585" stroke-width="0.9"/>
<line x1="906.93" y1="736.9" x2="906.93" y2="739.7" stroke="#858585" stroke-width="0.9"/>
<line x1="917.84" y1="736.9" x2="917.84" y2="742.4" stroke="#858585" stroke-width="0.9"/>
<line x1="928.75" y1="736.9" x2="928.75" y2="739.7" stroke="#858585" stroke-width="0.9"/>
<line x1="939.67" y1="736.9" x2="939.67" y2="742.4" stroke="#858585" stroke-width="0.9"/>
<line x1="950.59" y1="736.9" x2="950.59" y2="739.7" stroke="#858585" stroke-width="0.9"/>
<line x1="961.5" y1="736.9" x2="961.5" y2="742.4" stroke="#858585" stroke-width="0.9"/>
<line x1="743.2" y1="731.5" x2="743.2" y2="748" stroke="#858585" stroke-width="1"/>
<rect x="743.2" y="185" width="218.3" height="217.5" fill="#FFFBC6" stroke="#8a8a7a" stroke-width="0.9"/>
<rect x="743.2" y="518.75" width="218.3" height="212.75" fill="#FFFBC6"/>
<polyline points="961.5,518.75 961.5,731.5 743.2,731.5" fill="none" stroke="#8a8a7a" stroke-width="0.9" stroke-linejoin="round"/>
<polygon points="743,185 897.5,185 938.75,189.5 916.25,191.25 953.25,194.25 914.25,204.5 918.75,213.25 932.5,220.75 925.5,229.5 925,237 905.5,246.75 954.5,265.5 940.5,271.25 942,278.75 953.25,282 943.75,288.75 948.25,289.25 946.25,293.75 936.25,296.25 955.75,302.5 951.25,308.25 951.25,314.5 945.5,322.5 947,327.5 951.25,331.25 943,337 950,340.75 939.25,345.75 942,349.5 936.25,354.5 944.25,360 932.5,363.75 938.75,365.5 934.5,368.75 938,372.5 926.25,378.25 931.25,391.25 912.5,395.5 906.75,399.25 910,402.5 743,402.5" fill="#00A53E"/>
<polyline points="897.5,185 938.75,189.5 916.25,191.25 953.25,194.25 914.25,204.5 918.75,213.25 932.5,220.75 925.5,229.5 925,237 905.5,246.75 954.5,265.5 940.5,271.25 942,278.75 953.25,282 943.75,288.75 948.25,289.25 946.25,293.75 936.25,296.25 955.75,302.5 951.25,308.25 951.25,314.5 945.5,322.5 947,327.5 951.25,331.25 943,337 950,340.75 939.25,345.75 942,349.5 936.25,354.5 944.25,360 932.5,363.75 938.75,365.5 934.5,368.75 938,372.5 926.25,378.25 931.25,391.25 912.5,395.5 906.75,399.25 910,402.5" fill="none" stroke="#1c3b1c" stroke-width="0.8" stroke-linejoin="round"/>
<line x1="743.5" y1="185" x2="743.5" y2="402.5" stroke="#167a36" stroke-width="1"/>
<polygon points="743,518.75 899.5,518.75 898.75,521.75 872.5,523 895,524.5 881.25,527 858.75,530 857.5,531.75 834.5,533.75 861.75,536.25 816.25,538.75 875,543 838.75,544.5 884.5,546.75 885.75,551.75 864.5,555.5 864.25,559.5 870.75,562.5 841.25,566.75 860,570.75 863.25,574.5 859.5,578.75 878.75,584.5 929.25,589.25 788.75,592.5 843.75,595.5 807.5,597.5 836.25,600 828.75,602 863.75,604.5 841.25,606.75 866.25,608.75 841.25,613.25 856.25,615.5 815.5,625.75 875,630 850,635.75 843,641.25 854.25,644.5 849.25,652 831.25,661.25 828,670 828.75,678 810,686.75 863,694.75 840.75,703.5 862,720.5 837.5,731.5 743,731.5" fill="#00A53E"/>
<polyline points="899.5,518.75 898.75,521.75 872.5,523 895,524.5 881.25,527 858.75,530 857.5,531.75 834.5,533.75 861.75,536.25 816.25,538.75 875,543 838.75,544.5 884.5,546.75 885.75,551.75 864.5,555.5 864.25,559.5 870.75,562.5 841.25,566.75 860,570.75 863.25,574.5 859.5,578.75 878.75,584.5 929.25,589.25 788.75,592.5 843.75,595.5 807.5,597.5 836.25,600 828.75,602 863.75,604.5 841.25,606.75 866.25,608.75 841.25,613.25 856.25,615.5 815.5,625.75 875,630 850,635.75 843,641.25 854.25,644.5 849.25,652 831.25,661.25 828,670 828.75,678 810,686.75 863,694.75 840.75,703.5 862,720.5 837.5,731.5" fill="none" stroke="#1c3b1c" stroke-width="0.8" stroke-linejoin="round"/>
<line x1="743.5" y1="518.75" x2="743.5" y2="731.5" stroke="#167a36" stroke-width="1"/>
<text transform="translate(788.75,765.7) translate(-11.03,0) scale(0.81,1)" style="font-size:23.5px;letter-spacing:1.1px;" fill="#000">20</text>
<text transform="translate(831.75,765.7) translate(-11.03,0) scale(0.81,1)" style="font-size:23.5px;letter-spacing:1.1px;" fill="#000">40</text>
<text transform="translate(876.25,765.7) translate(-11.03,0) scale(0.81,1)" style="font-size:23.5px;letter-spacing:1.1px;" fill="#000">60</text>
<text transform="translate(920,765.7) translate(-11.03,0) scale(0.81,1)" style="font-size:23.5px;letter-spacing:1.1px;" fill="#000">80</text>
<text transform="translate(965.5,765.7) translate(-16.77,0) scale(0.81,1)" style="font-size:23.5px;letter-spacing:1.1px;" fill="#000">100</text>
<line x1="982.5" y1="154.5" x2="982.5" y2="185" stroke="#858585" stroke-width="1"/>
<line x1="982.5" y1="165.6" x2="1113.8" y2="165.6" stroke="#858585" stroke-width="1"/>
<line x1="982.5" y1="165.6" x2="982.5" y2="168.6" stroke="#858585" stroke-width="0.9"/>
<line x1="993.44" y1="165.6" x2="993.44" y2="168.6" stroke="#858585" stroke-width="0.9"/>
<line x1="1004.38" y1="165.6" x2="1004.38" y2="168.6" stroke="#858585" stroke-width="0.9"/>
<line x1="1015.32" y1="165.6" x2="1015.32" y2="168.6" stroke="#858585" stroke-width="0.9"/>
<line x1="1026.26" y1="165.6" x2="1026.26" y2="168.6" stroke="#858585" stroke-width="0.9"/>
<line x1="1037.2" y1="165.6" x2="1037.2" y2="168.6" stroke="#858585" stroke-width="0.9"/>
<line x1="1048.14" y1="165.6" x2="1048.14" y2="168.6" stroke="#858585" stroke-width="0.9"/>
<line x1="1059.08" y1="165.6" x2="1059.08" y2="168.6" stroke="#858585" stroke-width="0.9"/>
<line x1="1070.02" y1="165.6" x2="1070.02" y2="168.6" stroke="#858585" stroke-width="0.9"/>
<line x1="1080.96" y1="165.6" x2="1080.96" y2="168.6" stroke="#858585" stroke-width="0.9"/>
<line x1="1091.9" y1="165.6" x2="1091.9" y2="168.6" stroke="#858585" stroke-width="0.9"/>
<line x1="1102.84" y1="165.6" x2="1102.84" y2="168.6" stroke="#858585" stroke-width="0.9"/>
<line x1="1113.78" y1="165.6" x2="1113.78" y2="168.6" stroke="#858585" stroke-width="0.9"/>
<line x1="982.5" y1="736.9" x2="1113.8" y2="736.9" stroke="#858585" stroke-width="1"/>
<line x1="993.44" y1="736.9" x2="993.44" y2="739.7" stroke="#858585" stroke-width="0.9"/>
<line x1="1004.38" y1="736.9" x2="1004.38" y2="742.4" stroke="#858585" stroke-width="0.9"/>
<line x1="1015.32" y1="736.9" x2="1015.32" y2="739.7" stroke="#858585" stroke-width="0.9"/>
<line x1="1026.26" y1="736.9" x2="1026.26" y2="742.4" stroke="#858585" stroke-width="0.9"/>
<line x1="1037.2" y1="736.9" x2="1037.2" y2="739.7" stroke="#858585" stroke-width="0.9"/>
<line x1="1048.14" y1="736.9" x2="1048.14" y2="742.4" stroke="#858585" stroke-width="0.9"/>
<line x1="1059.08" y1="736.9" x2="1059.08" y2="739.7" stroke="#858585" stroke-width="0.9"/>
<line x1="1070.02" y1="736.9" x2="1070.02" y2="742.4" stroke="#858585" stroke-width="0.9"/>
<line x1="1080.96" y1="736.9" x2="1080.96" y2="739.7" stroke="#858585" stroke-width="0.9"/>
<line x1="1091.9" y1="736.9" x2="1091.9" y2="742.4" stroke="#858585" stroke-width="0.9"/>
<line x1="1102.84" y1="736.9" x2="1102.84" y2="739.7" stroke="#858585" stroke-width="0.9"/>
<line x1="1113.78" y1="736.9" x2="1113.78" y2="742.4" stroke="#858585" stroke-width="0.9"/>
<line x1="982.5" y1="731.5" x2="982.5" y2="748" stroke="#858585" stroke-width="1"/>
<polygon points="982.5,185 1014.5,185 995,189.5 986.25,192.5 987.5,196.25 993.25,204.5 988.75,213.75 987,227.5 990.75,237 987,250 983.75,266.25 990,271.25 987,280 988.75,287 993,288.75 990,290 990.5,293.75 1000.75,296.25 985,302.5 988.75,307 987.5,315 993.25,326.25 988,331.25 992,337.5 988.75,341.25 993.75,346.25 995,354.5 997,358 994.25,360.5 999.25,364.5 998.75,370 993.75,372.5 1003,375.5 1000.5,384.25 1004.5,387 995,392 1015,395.75 1017.5,399.5 1016.25,402.5 982.5,402.5" fill="#0A6E8C"/>
<polygon points="982.5,518.75 1020,518.75 1020,521.75 1050,523 1026.25,525 1031.25,528 1053.75,530 1053.75,531.75 1089.5,533.75 1056.25,536.25 1093.75,538.75 1037.5,542.5 1067.5,544.25 1025.5,546.75 1030,551.25 1056.25,555.5 1048.25,560 1047.5,563.75 1070,566.75 1052.5,570.75 1063,572.5 1052.5,578.75 1032.5,582.5 1003.75,589.25 1106.25,592.5 1065,595.5 1086.25,597.5 1052.5,600.5 1060,602 1043.75,605 1057.5,606.75 1047.5,609.5 1055,612.5 1048.75,615.5 1058.75,617.5 1051.25,620.75 1090.75,625.75 1053.75,630 1062,640.75 1048.75,644.5 1055.75,652 1048,661.75 1060.5,670 1062,678 1087,686.25 1020,694.75 1010.75,703.5 1043.25,720.5 1015,731.5 982.5,731.5" fill="#0A6E8C"/>
<text transform="translate(1027.5,765.7) translate(-11.03,0) scale(0.81,1)" style="font-size:23.5px;letter-spacing:1.1px;" fill="#000">20</text>
<text transform="translate(1071.75,765.7) translate(-11.03,0) scale(0.81,1)" style="font-size:23.5px;letter-spacing:1.1px;" fill="#000">40</text>
<text transform="translate(1104.2,765.7) scale(0.81,1)" style="font-size:23.5px;letter-spacing:1.1px" fill="#000">60<tspan dx="-0.8" style="font-size:21.62px;letter-spacing:0">%</tspan></text>
<line x1="1125.8" y1="154.5" x2="1125.8" y2="185" stroke="#858585" stroke-width="1"/>
<line x1="1125.8" y1="165.6" x2="1235.2" y2="165.6" stroke="#858585" stroke-width="1"/>
<line x1="1125.8" y1="165.6" x2="1125.8" y2="168.6" stroke="#858585" stroke-width="0.9"/>
<line x1="1136.74" y1="165.6" x2="1136.74" y2="168.6" stroke="#858585" stroke-width="0.9"/>
<line x1="1147.68" y1="165.6" x2="1147.68" y2="168.6" stroke="#858585" stroke-width="0.9"/>
<line x1="1158.62" y1="165.6" x2="1158.62" y2="168.6" stroke="#858585" stroke-width="0.9"/>
<line x1="1169.56" y1="165.6" x2="1169.56" y2="168.6" stroke="#858585" stroke-width="0.9"/>
<line x1="1180.5" y1="165.6" x2="1180.5" y2="168.6" stroke="#858585" stroke-width="0.9"/>
<line x1="1191.44" y1="165.6" x2="1191.44" y2="168.6" stroke="#858585" stroke-width="0.9"/>
<line x1="1202.38" y1="165.6" x2="1202.38" y2="168.6" stroke="#858585" stroke-width="0.9"/>
<line x1="1213.32" y1="165.6" x2="1213.32" y2="168.6" stroke="#858585" stroke-width="0.9"/>
<line x1="1224.26" y1="165.6" x2="1224.26" y2="168.6" stroke="#858585" stroke-width="0.9"/>
<line x1="1235.2" y1="165.6" x2="1235.2" y2="168.6" stroke="#858585" stroke-width="0.9"/>
<line x1="1125.8" y1="736.9" x2="1235.2" y2="736.9" stroke="#858585" stroke-width="1"/>
<line x1="1136.74" y1="736.9" x2="1136.74" y2="739.7" stroke="#858585" stroke-width="0.9"/>
<line x1="1147.68" y1="736.9" x2="1147.68" y2="742.4" stroke="#858585" stroke-width="0.9"/>
<line x1="1158.62" y1="736.9" x2="1158.62" y2="739.7" stroke="#858585" stroke-width="0.9"/>
<line x1="1169.56" y1="736.9" x2="1169.56" y2="742.4" stroke="#858585" stroke-width="0.9"/>
<line x1="1180.5" y1="736.9" x2="1180.5" y2="739.7" stroke="#858585" stroke-width="0.9"/>
<line x1="1191.44" y1="736.9" x2="1191.44" y2="742.4" stroke="#858585" stroke-width="0.9"/>
<line x1="1202.38" y1="736.9" x2="1202.38" y2="739.7" stroke="#858585" stroke-width="0.9"/>
<line x1="1213.32" y1="736.9" x2="1213.32" y2="742.4" stroke="#858585" stroke-width="0.9"/>
<line x1="1224.26" y1="736.9" x2="1224.26" y2="739.7" stroke="#858585" stroke-width="0.9"/>
<line x1="1235.2" y1="736.9" x2="1235.2" y2="742.4" stroke="#858585" stroke-width="0.9"/>
<line x1="1125.8" y1="731.5" x2="1125.8" y2="748" stroke="#858585" stroke-width="1"/>
<polygon points="1125.75,185 1133.75,185 1133.75,189.5 1157.5,191.5 1130,194.25 1155,204.5 1155.75,213.25 1147,221.25 1152.5,229.5 1149.25,237 1173.25,246.25 1130,265.5 1138,271.25 1140.75,278 1127.5,285.5 1131.25,288.25 1128.75,290 1131.25,296.25 1134.5,300 1128,303 1128.75,315 1133.75,322.5 1133.75,322.5 1128.25,326.25 1128.75,333.75 1131.25,341.25 1131.25,348.75 1135,354.5 1130,357 1133.75,364.5 1132,366.25 1134.5,371.25 1132.5,372.5 1135.75,380 1133.75,385 1139.5,391.25 1135.5,397.5 1135.5,402.5 1125.75,402.5" fill="#FFFF00" stroke="#5a5a10" stroke-width="0.7" stroke-linejoin="round"/>
<polygon points="1125.75,518.75 1143.75,518.75 1143.75,522 1140.75,523 1155.75,527 1148.25,530 1149.5,532 1138,533.75 1147.5,536.25 1147,538 1158,539.25 1143,543 1155.5,544.5 1153.75,548.75 1138.75,555 1149.5,560 1147,563 1157.5,569.25 1142,573 1151.25,579.5 1152.5,584.5 1131.25,588 1170,592 1151.75,595.5 1173.75,599.25 1176.75,601.25 1159.25,605 1166.75,606.75 1150.5,609.25 1165.5,613.25 1155,615.5 1172,620 1161.25,624.5 1137.5,630 1157.5,635.75 1158.75,643.75 1160.5,645 1160,652 1181.25,661.75 1169.5,669 1173.25,678 1147.5,695.25 1217,703.5 1142.5,720.5 1213.25,731.5 1125.75,731.5" fill="#FFFF00" stroke="#5a5a10" stroke-width="0.7" stroke-linejoin="round"/>
<text transform="translate(1171.25,765.7) translate(-11.03,0) scale(0.81,1)" style="font-size:23.5px;letter-spacing:1.1px;" fill="#000">20</text>
<text transform="translate(1215,765.7) translate(-11.03,0) scale(0.81,1)" style="font-size:23.5px;letter-spacing:1.1px;" fill="#000">40</text>
<line x1="1249.4" y1="153.75" x2="1249.4" y2="215" stroke="#858585" stroke-width="1"/>
<line x1="1249.4" y1="167" x2="1359.6" y2="167" stroke="#858585" stroke-width="1"/>
<line x1="1249.4" y1="167" x2="1249.4" y2="170" stroke="#858585" stroke-width="0.9"/>
<line x1="1260.42" y1="167" x2="1260.42" y2="170" stroke="#858585" stroke-width="0.9"/>
<line x1="1271.44" y1="167" x2="1271.44" y2="170" stroke="#858585" stroke-width="0.9"/>
<line x1="1282.46" y1="167" x2="1282.46" y2="170" stroke="#858585" stroke-width="0.9"/>
<line x1="1293.48" y1="167" x2="1293.48" y2="170" stroke="#858585" stroke-width="0.9"/>
<line x1="1304.5" y1="167" x2="1304.5" y2="170" stroke="#858585" stroke-width="0.9"/>
<line x1="1315.52" y1="167" x2="1315.52" y2="170" stroke="#858585" stroke-width="0.9"/>
<line x1="1326.54" y1="167" x2="1326.54" y2="170" stroke="#858585" stroke-width="0.9"/>
<line x1="1337.56" y1="167" x2="1337.56" y2="170" stroke="#858585" stroke-width="0.9"/>
<line x1="1348.58" y1="167" x2="1348.58" y2="170" stroke="#858585" stroke-width="0.9"/>
<line x1="1359.6" y1="167" x2="1359.6" y2="170" stroke="#858585" stroke-width="0.9"/>
<line x1="1249.4" y1="740.4" x2="1359.6" y2="740.4" stroke="#858585" stroke-width="1"/>
<line x1="1260.42" y1="740.4" x2="1260.42" y2="743.2" stroke="#858585" stroke-width="0.9"/>
<line x1="1271.44" y1="740.4" x2="1271.44" y2="745.9" stroke="#858585" stroke-width="0.9"/>
<line x1="1282.46" y1="740.4" x2="1282.46" y2="743.2" stroke="#858585" stroke-width="0.9"/>
<line x1="1293.48" y1="740.4" x2="1293.48" y2="745.9" stroke="#858585" stroke-width="0.9"/>
<line x1="1304.5" y1="740.4" x2="1304.5" y2="743.2" stroke="#858585" stroke-width="0.9"/>
<line x1="1315.52" y1="740.4" x2="1315.52" y2="745.9" stroke="#858585" stroke-width="0.9"/>
<line x1="1326.54" y1="740.4" x2="1326.54" y2="743.2" stroke="#858585" stroke-width="0.9"/>
<line x1="1337.56" y1="740.4" x2="1337.56" y2="745.9" stroke="#858585" stroke-width="0.9"/>
<line x1="1348.58" y1="740.4" x2="1348.58" y2="743.2" stroke="#858585" stroke-width="0.9"/>
<line x1="1359.6" y1="740.4" x2="1359.6" y2="745.9" stroke="#858585" stroke-width="0.9"/>
<line x1="1249.4" y1="740.4" x2="1249.4" y2="751" stroke="#858585" stroke-width="1"/>
<polygon points="1248.6,184 1249.8,184 1249.8,184.85 1249.8,185.7 1249.8,186.55 1249.89,187.4 1250,188.25 1250.11,189.1 1250.23,189.95 1250.51,190.8 1249.8,191.65 1250.87,192.5 1249.8,193.35 1251.03,194.2 1251.25,195 1249.8,195.05 1250.77,195.9 1249.8,196.75 1250.54,197.6 1249.8,198.45 1250.33,199.3 1249.8,200.15 1251.87,201 1252.5,201.25 1250.5,201.85 1251,202.7 1249.8,203.55 1250.23,204.4 1249.8,205.25 1250.87,206.1 1249.8,206.95 1250.82,207.8 1250.08,208.65 1250.83,209.5 1253.22,210.35 1261.9,211.2 1268.75,211.75 1262.44,212.05 1260.27,212.9 1255.19,213.75 1252.51,214.6 1250.4,215.45 1251.64,216.3 1250.03,217.15 1251.05,218 1249.89,218.85 1250.89,219.7 1249.8,220.55 1250.96,221.4 1249.98,222.25 1251.08,223.1 1249.86,223.95 1252.61,224.8 1252.59,225.65 1261.78,226.5 1268.84,227.35 1278.64,228.2 1278.31,229.05 1288.75,229.25 1279.5,229.9 1266.59,230.75 1274.52,231.6 1274.5,232.45 1278,232.5 1270.78,233.3 1266.72,234.15 1260.74,235 1262.55,235.85 1268.9,236.7 1270,237 1262.68,237.55 1262.25,238.4 1274.83,239.25 1296.25,239.5 1291.54,240.1 1282.63,240.95 1279.37,241.8 1266.24,242.65 1267.75,243.5 1277.66,244.35 1283.75,244.5 1282.37,245.2 1278.05,246.05 1280.74,246.9 1277.13,247.75 1271.68,248.6 1259.53,249.45 1262.34,250.3 1259.9,251.15 1272.76,252 1358.75,252.5 1293.43,252.85 1331.86,253.7 1302.01,254.55 1299.69,255.4 1292.19,256.25 1288.24,257.1 1267.96,257.95 1261.8,258.8 1260.57,259.65 1263.92,260.5 1262.77,261.35 1268.75,261.75 1267.26,262.2 1260.33,263.05 1260.03,263.9 1256.51,264.75 1262.33,265.6 1263.2,266.45 1273.18,267.3 1276.25,267.5 1265.81,268.15 1259.66,269 1252.24,269.85 1253.15,270.7 1250.76,271.55 1251.81,272.4 1249.89,273.25 1252.76,274.1 1255.61,274.95 1256.25,275 1254.89,275.8 1251.99,276.65 1262.18,277.5 1272.5,278 1265.53,278.35 1264.68,279.2 1258.93,280.05 1255.07,280.9 1250.76,281.75 1252.51,282.6 1250.81,283.45 1252.11,284.3 1250.64,285.15 1256.6,286 1262.08,286.85 1272.01,287.7 1276.64,288.55 1282.5,288.75 1272.75,289.4 1267.51,290.25 1261.43,291.1 1257.49,291.95 1256.2,292.8 1251.77,293.65 1255.38,294.5 1255.83,295.35 1258.75,295.5 1257.49,296.2 1254.35,297.05 1254.26,297.9 1254.24,298.75 1256.01,299.6 1257.5,300 1254.9,300.45 1253.74,301.3 1250.57,302.15 1252.33,303 1250.59,303.85 1252.24,304.7 1250.33,305.55 1252.24,306.4 1250.28,307.25 1251.35,308.1 1249.8,308.95 1251.08,309.8 1249.81,310.65 1251.11,311.5 1250.29,312.35 1251.88,313.2 1250.12,314.05 1251.8,314.9 1252,315 1249.8,315.75 1251.14,316.6 1249.8,317.45 1250.78,318.3 1249.8,319.15 1250.15,320 1249.8,320.85 1250.66,321.7 1250.17,322.55 1251.39,323.4 1249.83,324.25 1251.89,325.1 1250.31,325.95 1252.42,326.8 1251.99,327.65 1253.27,328.5 1251.96,329.35 1253.23,330.2 1253.75,330.25 1250.8,331.05 1250.69,331.9 1249.8,332.75 1250.74,333.6 1249.83,334.45 1250.69,335.3 1249.8,336.15 1250.95,337 1250,337.85 1251.02,338.7 1249.92,339.55 1251.01,340.4 1249.85,341.25 1250.65,342.1 1249.8,342.95 1250.64,343.8 1249.8,344.65 1250.42,345.5 1249.8,346.35 1250.44,347.2 1249.8,348.05 1251.24,348.9 1250.01,349.75 1252.29,350.6 1251.84,351.45 1253,352 1252.81,352.3 1249.93,353.15 1250.39,354 1249.8,354.85 1250.44,355.7 1249.8,356.55 1250.68,357.4 1249.85,358.25 1250.84,359.1 1249.8,359.95 1250.83,360.8 1249.87,361.65 1250.63,362.5 1249.82,363.35 1251.06,364.2 1249.85,365.05 1250.81,365.9 1249.8,366.75 1250.41,367.6 1250.2,368.45 1250.12,369.3 1250.04,370.15 1249.98,371 1249.93,371.85 1249.87,372.7 1249.81,373.55 1249.8,374.4 1249.8,375.25 1249.9,376.1 1251.34,376.95 1254.01,377.8 1255.86,378.65 1259.2,379.5 1260,380 1257.14,380.35 1256.41,381.2 1253.5,382.05 1255.96,382.9 1256.8,383.75 1261.03,384.6 1264.4,385 1260.35,385.45 1264.19,386.3 1261.89,387.15 1261.12,388 1261.15,388.85 1262.2,389.7 1256.96,390.55 1254.3,391.4 1251.65,392.25 1252.02,393.1 1249.8,393.95 1251.65,394.8 1250.05,395.65 1251.23,396.5 1250.15,397.35 1251.02,398.2 1250.02,399.05 1251.05,399.9 1249.8,400.75 1250.47,401.6 1250.16,402.45 1249.99,403.3 1249.85,404.15 1249.85,405 1249.85,405.85 1249.85,406.7 1249.85,407.55 1249.85,408.4 1249.85,409.25 1249.85,410.1 1249.85,410.95 1249.85,411.8 1249.85,412.65 1249.85,413.5 1249.85,414.35 1249.85,415.2 1249.85,416.05 1249.85,416.9 1249.85,417.75 1249.85,418.6 1249.85,419.45 1249.85,420.3 1249.85,421.15 1249.85,422 1249.85,422.85 1249.85,423.7 1249.85,424.55 1249.85,425.4 1249.85,426.25 1249.85,427.1 1249.85,427.95 1249.85,428.8 1249.85,429.65 1249.85,430.5 1249.85,431.35 1249.85,432.2 1249.85,433.05 1249.85,433.9 1249.85,434.75 1249.85,435.6 1249.85,436.45 1249.85,437.3 1249.85,438.15 1249.85,439 1249.85,439.85 1249.85,440.7 1249.85,441.55 1249.85,442.4 1249.85,443.25 1249.85,444.1 1249.85,444.95 1249.85,445.8 1249.85,446.65 1249.85,447.5 1249.85,448.35 1249.85,449.2 1249.85,450.05 1249.85,450.9 1249.85,451.75 1249.85,452.6 1249.85,453.45 1249.85,454.3 1249.85,455.15 1249.85,456 1249.85,456.85 1249.85,457.7 1249.85,458.55 1249.85,459.4 1249.85,460.25 1249.85,461.1 1249.86,461.95 1249.86,462.8 1249.87,463.65 1249.87,464.5 1249.88,465.35 1249.88,466.2 1249.88,467.05 1249.89,467.9 1249.89,468.75 1249.9,469.6 1249.9,470.45 1249.91,471.3 1249.91,472.15 1249.91,473 1249.92,473.85 1249.92,474.7 1249.93,475.55 1249.93,476.4 1249.94,477.25 1249.94,478.1 1249.94,478.95 1249.95,479.8 1249.95,480.65 1249.96,481.5 1249.96,482.35 1249.97,483.2 1249.97,484.05 1249.97,484.9 1249.98,485.75 1249.98,486.6 1249.99,487.45 1249.99,488.3 1250,489.15 1250,490 1250,490.85 1250.01,491.7 1250.01,492.55 1250.02,493.4 1250.02,494.25 1250.03,495.1 1250.03,495.95 1250.03,496.8 1250.04,497.65 1250.04,498.5 1250.05,499.35 1250.05,500.2 1250.07,501.05 1250.09,501.9 1250.11,502.75 1250.12,503.6 1250.14,504.45 1250.16,505.3 1250.17,506.15 1250.19,507 1250.21,507.85 1250.22,508.7 1250.24,509.55 1250.42,510.4 1249.8,511.25 1250.58,512.1 1249.8,512.95 1250.54,513.8 1249.8,514.65 1250.78,515.5 1249.8,516.35 1250.62,517.2 1249.8,518.05 1250.85,518.9 1249.8,519.75 1250.88,520.6 1249.8,521.45 1250.73,522.3 1249.8,523.15 1250.51,524 1249.8,524.85 1250.6,525.7 1249.8,526.55 1250.9,527.4 1249.8,528.25 1250.76,529.1 1249.82,529.95 1250.82,530.8 1249.8,531.65 1250.82,532.5 1249.8,533.35 1250.96,534.2 1249.8,535.05 1250.87,535.9 1249.8,536.75 1250.75,537.6 1249.89,538.45 1250.88,539.3 1249.8,540.15 1251.26,541 1250.25,541.85 1251.49,542.7 1250.25,543.55 1251.93,544.4 1250.94,545.25 1252.48,546.1 1251.12,546.95 1252.76,547.8 1253,548 1251.25,548.65 1252.9,549.5 1251.37,550.35 1252.54,551.2 1251.48,552.05 1251.8,552.9 1250.26,553.75 1251.97,554.6 1250.33,555.45 1251.3,556.3 1249.86,557.15 1251.92,558 1250.39,558.85 1252.18,559.7 1250.6,560.55 1252.97,561.4 1251.98,562.25 1253.64,563.1 1251.18,563.95 1253.91,564.8 1254,565 1252.07,565.65 1252.71,566.5 1251.84,567.35 1252.63,568.2 1250,569.05 1251.77,569.9 1250.02,570.75 1251.75,571.6 1250.69,572.45 1252.32,573.3 1250.54,574.15 1252.35,575 1251.23,575.85 1252.58,576.7 1253,577 1250.82,577.55 1252.36,578.4 1251.38,579.25 1251.83,580.1 1250.92,580.95 1251.83,581.8 1250.33,582.65 1252.54,583.5 1251.81,584.35 1253.67,585.2 1251.35,586.05 1255.24,586.9 1253.57,587.75 1255.6,588 1255.41,588.6 1251.44,589.45 1253.26,590.3 1250.68,591.15 1252.42,592 1251.19,592.85 1253.6,593.7 1252.59,594.55 1256.47,595.4 1256.39,596.25 1257.2,597.1 1256.52,597.95 1259.6,598.4 1258.92,598.8 1255.26,599.65 1254.21,600.5 1250.83,601.35 1253.08,602.2 1252.58,603.05 1254.52,603.9 1255,604 1251.37,604.75 1254,605.6 1251.67,606.45 1252.57,607.3 1249.89,608.15 1252.68,609 1250.73,609.85 1253.73,610.7 1251.97,611.55 1254.4,612 1253.63,612.4 1251.69,613.25 1252.87,614.1 1250.03,614.95 1253.43,615.8 1255.13,616.65 1257.59,617.5 1257.74,618.35 1261,618.4 1258.66,619.2 1256.37,620.05 1261.31,620.9 1262.79,621.75 1267.6,622 1264.18,622.6 1261.49,623.45 1259.24,624.3 1259.83,625.15 1262.56,626 1266,626.6 1261.81,626.85 1260.14,627.7 1256.78,628.55 1255.01,629.4 1252.77,630.25 1255.9,631.1 1255.7,631.95 1258,632 1255.72,632.8 1252.91,633.65 1251.95,634.5 1251.71,635.35 1252.91,636.2 1251.7,637.05 1254.05,637.9 1254,638 1251.24,638.75 1251.91,639.6 1250.28,640.45 1252.37,641.3 1250.88,642.15 1253,643 1253.07,643 1251.27,643.85 1251.79,644.7 1249.82,645.55 1250.98,646.4 1249.8,647.25 1251.56,648.1 1250.39,648.95 1252.4,649 1252.02,649.8 1249.85,650.65 1250.92,651.5 1249.8,652.35 1251.47,653.2 1250.37,654.05 1251.96,654.9 1250.64,655.75 1252.4,656 1251.83,656.6 1250,657.45 1251.46,658.3 1249.8,659.15 1250.92,660 1249.8,660.85 1251.3,661.7 1250.2,662.55 1251.29,663.4 1249.8,664.25 1251.6,665 1251.72,665.1 1249.86,665.95 1251.26,666.8 1249.8,667.65 1251.18,668.5 1249.88,669.35 1251.14,670.2 1249.8,671.05 1251.04,671.9 1249.8,672.75 1250.82,673.6 1249.8,674.45 1250.79,675.3 1249.8,676.15 1250.52,677 1249.8,677.85 1250.52,678.7 1249.8,679.55 1250.55,680.4 1249.8,681.25 1250.56,682.1 1249.8,682.95 1250.65,683.8 1249.8,684.65 1250.43,685.5 1249.8,686.35 1250.36,687.2 1249.8,688.05 1250.56,688.9 1249.8,689.75 1250.63,690.6 1249.8,691.45 1250.55,692.3 1249.8,693.15 1250.62,694 1249.8,694.85 1250.51,695.7 1249.8,696.55 1252.34,697.4 1255.16,698.25 1259,699 1258.74,699.1 1252.86,699.95 1251.71,700.8 1249.8,701.65 1250.78,702.5 1249.8,703.35 1250.48,704.2 1249.8,705.05 1250.63,705.9 1249.8,706.75 1250.84,707.6 1249.8,708.45 1250.75,709.3 1249.8,710.15 1250.77,711 1249.8,711.85 1250.47,712.7 1250.33,713.55 1253.2,714.4 1254.4,715.1 1251.99,715.25 1251.73,716.1 1249.98,716.95 1252.34,717.8 1254.1,718.4 1252.24,718.65 1252.14,719.5 1249.8,720.35 1250.03,721.2 1249.93,722.05 1249.83,722.9 1249.8,723.75 1249.8,724.6 1249.8,725.45 1249.8,726.3 1249.8,727.15 1250.1,728.2 1254,729.6 1266.7,730.3 1278.7,731 1317.4,731.3 1370.9,732 1370.9,735.2 1335,734.8 1321,735.8 1309,737.3 1248.6,737.7" fill="#000000"/>
<polygon points="1296,251.6 1330,252 1358.8,252.4 1330,253 1296,253.8" fill="#000000"/>
<polyline points="1338,734.3 1371,734.5" fill="none" stroke="#e0cfc8" stroke-width="0.4" stroke-linejoin="round"/>
<text transform="translate(1296,765.7) translate(-11.03,0) scale(0.81,1)" style="font-size:23.5px;letter-spacing:1.1px;" fill="#000">20</text>
<text transform="translate(1339.6,765.7) translate(-11.03,0) scale(0.81,1)" style="font-size:23.5px;letter-spacing:1.1px;" fill="#000">40</text>
<line x1="1371.5" y1="157" x2="1371.5" y2="753" stroke="#858585" stroke-width="1"/>
<line x1="1371.5" y1="168" x2="1415.7" y2="168" stroke="#858585" stroke-width="1"/>
<line x1="1371.5" y1="168" x2="1371.5" y2="171" stroke="#858585" stroke-width="0.9"/>
<line x1="1382.55" y1="168" x2="1382.55" y2="171" stroke="#858585" stroke-width="0.9"/>
<line x1="1393.6" y1="168" x2="1393.6" y2="171" stroke="#858585" stroke-width="0.9"/>
<line x1="1404.65" y1="168" x2="1404.65" y2="171" stroke="#858585" stroke-width="0.9"/>
<line x1="1415.7" y1="168" x2="1415.7" y2="171" stroke="#858585" stroke-width="0.9"/>
<line x1="1371.5" y1="742.4" x2="1415.7" y2="742.4" stroke="#858585" stroke-width="1"/>
<line x1="1382.55" y1="742.4" x2="1382.55" y2="745.2" stroke="#858585" stroke-width="0.9"/>
<line x1="1393.6" y1="742.4" x2="1393.6" y2="747.9" stroke="#858585" stroke-width="0.9"/>
<line x1="1404.65" y1="742.4" x2="1404.65" y2="745.2" stroke="#858585" stroke-width="0.9"/>
<line x1="1415.7" y1="742.4" x2="1415.7" y2="747.9" stroke="#858585" stroke-width="0.9"/>
<line x1="1372" y1="202" x2="1382.55" y2="202" stroke="#7a7a7a" stroke-width="0.9"/>
<line x1="1372" y1="228.6" x2="1382.55" y2="228.6" stroke="#7a7a7a" stroke-width="0.9"/>
<line x1="1372" y1="230.4" x2="1404.65" y2="230.4" stroke="#7a7a7a" stroke-width="0.9"/>
<line x1="1372" y1="235" x2="1393.6" y2="235" stroke="#7a7a7a" stroke-width="0.9"/>
<line x1="1372" y1="237.4" x2="1382.55" y2="237.4" stroke="#7a7a7a" stroke-width="0.9"/>
<line x1="1372" y1="252.4" x2="1404.65" y2="252.4" stroke="#7a7a7a" stroke-width="0.9"/>
<line x1="1372" y1="254.4" x2="1382.55" y2="254.4" stroke="#7a7a7a" stroke-width="0.9"/>
<line x1="1372" y1="257" x2="1382.55" y2="257" stroke="#7a7a7a" stroke-width="0.9"/>
<line x1="1372" y1="301.6" x2="1393.6" y2="301.6" stroke="#7a7a7a" stroke-width="0.9"/>
<line x1="1372" y1="547" x2="1382.55" y2="547" stroke="#7a7a7a" stroke-width="0.9"/>
<line x1="1372" y1="548.6" x2="1382.55" y2="548.6" stroke="#7a7a7a" stroke-width="0.9"/>
<line x1="1372" y1="564.4" x2="1382.55" y2="564.4" stroke="#7a7a7a" stroke-width="0.9"/>
<line x1="1372" y1="567" x2="1382.55" y2="567" stroke="#7a7a7a" stroke-width="0.9"/>
<line x1="1372" y1="584.4" x2="1393.6" y2="584.4" stroke="#7a7a7a" stroke-width="0.9"/>
<line x1="1372" y1="589.6" x2="1382.55" y2="589.6" stroke="#7a7a7a" stroke-width="0.9"/>
<line x1="1372" y1="617.4" x2="1382.55" y2="617.4" stroke="#7a7a7a" stroke-width="0.9"/>
<line x1="1372" y1="625.6" x2="1382.55" y2="625.6" stroke="#7a7a7a" stroke-width="0.9"/>
<line x1="1372" y1="663.6" x2="1382.55" y2="663.6" stroke="#7a7a7a" stroke-width="0.9"/>
<line x1="1372" y1="733.4" x2="1381.44" y2="733.4" stroke="#7a7a7a" stroke-width="0.9"/>
<text transform="translate(1393.5,765.7) translate(-5.29,0) scale(0.81,1)" style="font-size:23.5px;letter-spacing:1.1px;" fill="#000">2</text>
<text transform="translate(1416,765.7) translate(-5.29,0) scale(0.81,1)" style="font-size:23.5px;letter-spacing:1.1px;" fill="#000">4</text>
<line x1="1426.6" y1="157" x2="1426.6" y2="753" stroke="#858585" stroke-width="1"/>
<line x1="1426.6" y1="168" x2="1514.5" y2="168" stroke="#858585" stroke-width="1"/>
<line x1="1426.6" y1="168" x2="1426.6" y2="171" stroke="#858585" stroke-width="0.9"/>
<line x1="1448.57" y1="168" x2="1448.57" y2="171" stroke="#858585" stroke-width="0.9"/>
<line x1="1470.54" y1="168" x2="1470.54" y2="171" stroke="#858585" stroke-width="0.9"/>
<line x1="1492.51" y1="168" x2="1492.51" y2="171" stroke="#858585" stroke-width="0.9"/>
<line x1="1514.48" y1="168" x2="1514.48" y2="171" stroke="#858585" stroke-width="0.9"/>
<line x1="1426.6" y1="742.4" x2="1514.5" y2="742.4" stroke="#858585" stroke-width="1"/>
<line x1="1448.57" y1="742.4" x2="1448.57" y2="745.9" stroke="#858585" stroke-width="0.9"/>
<line x1="1470.54" y1="742.4" x2="1470.54" y2="747.9" stroke="#858585" stroke-width="0.9"/>
<line x1="1492.51" y1="742.4" x2="1492.51" y2="745.9" stroke="#858585" stroke-width="0.9"/>
<line x1="1514.48" y1="742.4" x2="1514.48" y2="747.9" stroke="#858585" stroke-width="0.9"/>
<line x1="1427.1" y1="202" x2="1430.4" y2="202" stroke="#7a7a7a" stroke-width="0.8"/>
<line x1="1427.1" y1="228.6" x2="1479" y2="228.6" stroke="#7a7a7a" stroke-width="0.8"/>
<line x1="1427.1" y1="230.4" x2="1474" y2="230.4" stroke="#7a7a7a" stroke-width="0.8"/>
<line x1="1427.1" y1="232.4" x2="1435" y2="232.4" stroke="#7a7a7a" stroke-width="0.8"/>
<line x1="1427.1" y1="235" x2="1497" y2="235" stroke="#7a7a7a" stroke-width="0.8"/>
<line x1="1427.1" y1="237.4" x2="1466" y2="237.4" stroke="#7a7a7a" stroke-width="0.8"/>
<line x1="1427.1" y1="239.4" x2="1430" y2="239.4" stroke="#7a7a7a" stroke-width="0.8"/>
<line x1="1427.1" y1="240.6" x2="1470.4" y2="240.6" stroke="#7a7a7a" stroke-width="0.8"/>
<line x1="1427.1" y1="241.6" x2="1435" y2="241.6" stroke="#7a7a7a" stroke-width="0.8"/>
<line x1="1427.1" y1="243.6" x2="1430.4" y2="243.6" stroke="#7a7a7a" stroke-width="0.8"/>
<line x1="1427.1" y1="244" x2="1470.4" y2="244" stroke="#7a7a7a" stroke-width="0.8"/>
<line x1="1427.1" y1="246" x2="1488" y2="246" stroke="#7a7a7a" stroke-width="0.8"/>
<line x1="1427.1" y1="247" x2="1440" y2="247" stroke="#7a7a7a" stroke-width="0.8"/>
<line x1="1427.1" y1="248" x2="1444" y2="248" stroke="#7a7a7a" stroke-width="0.8"/>
<line x1="1427.1" y1="249.4" x2="1435" y2="249.4" stroke="#7a7a7a" stroke-width="0.8"/>
<line x1="1427.1" y1="252.4" x2="1430.4" y2="252.4" stroke="#7a7a7a" stroke-width="0.8"/>
<line x1="1427.1" y1="254" x2="1514.4" y2="254" stroke="#7a7a7a" stroke-width="0.8"/>
<line x1="1427.1" y1="255" x2="1483.4" y2="255" stroke="#7a7a7a" stroke-width="0.8"/>
<line x1="1427.1" y1="257" x2="1444" y2="257" stroke="#7a7a7a" stroke-width="0.8"/>
<line x1="1427.1" y1="258.6" x2="1510" y2="258.6" stroke="#7a7a7a" stroke-width="0.8"/>
<line x1="1427.1" y1="263.6" x2="1430.4" y2="263.6" stroke="#7a7a7a" stroke-width="0.8"/>
<line x1="1427.1" y1="265" x2="1430.4" y2="265" stroke="#7a7a7a" stroke-width="0.8"/>
<line x1="1427.1" y1="266.4" x2="1430.4" y2="266.4" stroke="#7a7a7a" stroke-width="0.8"/>
<line x1="1427.1" y1="268" x2="1430.4" y2="268" stroke="#7a7a7a" stroke-width="0.8"/>
<line x1="1427.1" y1="274.4" x2="1435" y2="274.4" stroke="#7a7a7a" stroke-width="0.8"/>
<line x1="1427.1" y1="277" x2="1457" y2="277" stroke="#7a7a7a" stroke-width="0.8"/>
<line x1="1427.1" y1="278" x2="1440" y2="278" stroke="#7a7a7a" stroke-width="0.8"/>
<line x1="1427.1" y1="281" x2="1439.6" y2="281" stroke="#7a7a7a" stroke-width="0.8"/>
<line x1="1427.1" y1="282.4" x2="1435" y2="282.4" stroke="#7a7a7a" stroke-width="0.8"/>
<line x1="1427.1" y1="284.4" x2="1435" y2="284.4" stroke="#7a7a7a" stroke-width="0.8"/>
<line x1="1427.1" y1="287" x2="1430.4" y2="287" stroke="#7a7a7a" stroke-width="0.8"/>
<line x1="1427.1" y1="288" x2="1430.4" y2="288" stroke="#7a7a7a" stroke-width="0.8"/>
<line x1="1427.1" y1="289" x2="1430.4" y2="289" stroke="#7a7a7a" stroke-width="0.8"/>
<line x1="1427.1" y1="295.4" x2="1439.6" y2="295.4" stroke="#7a7a7a" stroke-width="0.8"/>
<line x1="1427.1" y1="299.4" x2="1430.4" y2="299.4" stroke="#7a7a7a" stroke-width="0.8"/>
<line x1="1427.1" y1="302.4" x2="1444" y2="302.4" stroke="#7a7a7a" stroke-width="0.8"/>
<line x1="1427.1" y1="303" x2="1430.4" y2="303" stroke="#7a7a7a" stroke-width="0.8"/>
<line x1="1427.1" y1="305.6" x2="1430.4" y2="305.6" stroke="#7a7a7a" stroke-width="0.8"/>
<line x1="1427.1" y1="307.6" x2="1435" y2="307.6" stroke="#7a7a7a" stroke-width="0.8"/>
<line x1="1427.1" y1="317.4" x2="1430.4" y2="317.4" stroke="#7a7a7a" stroke-width="0.8"/>
<line x1="1427.1" y1="329.4" x2="1430.4" y2="329.4" stroke="#7a7a7a" stroke-width="0.8"/>
<line x1="1427.1" y1="331" x2="1430.4" y2="331" stroke="#7a7a7a" stroke-width="0.8"/>
<line x1="1427.1" y1="342.6" x2="1430.4" y2="342.6" stroke="#7a7a7a" stroke-width="0.8"/>
<line x1="1427.1" y1="355.6" x2="1430.4" y2="355.6" stroke="#7a7a7a" stroke-width="0.8"/>
<line x1="1427.1" y1="361.4" x2="1430.4" y2="361.4" stroke="#7a7a7a" stroke-width="0.8"/>
<line x1="1427.1" y1="369.6" x2="1430.4" y2="369.6" stroke="#7a7a7a" stroke-width="0.8"/>
<line x1="1427.1" y1="380" x2="1430.4" y2="380" stroke="#7a7a7a" stroke-width="0.8"/>
<line x1="1427.1" y1="382.4" x2="1444" y2="382.4" stroke="#7a7a7a" stroke-width="0.8"/>
<line x1="1427.1" y1="387.6" x2="1430.4" y2="387.6" stroke="#7a7a7a" stroke-width="0.8"/>
<line x1="1427.1" y1="395" x2="1430.4" y2="395" stroke="#7a7a7a" stroke-width="0.8"/>
<line x1="1427.1" y1="399.6" x2="1430.4" y2="399.6" stroke="#7a7a7a" stroke-width="0.8"/>
<line x1="1427.1" y1="406" x2="1430.4" y2="406" stroke="#7a7a7a" stroke-width="0.8"/>
<line x1="1427.1" y1="522" x2="1435" y2="522" stroke="#7a7a7a" stroke-width="0.8"/>
<line x1="1427.1" y1="528.6" x2="1430.4" y2="528.6" stroke="#7a7a7a" stroke-width="0.8"/>
<line x1="1427.1" y1="539" x2="1430.4" y2="539" stroke="#7a7a7a" stroke-width="0.8"/>
<line x1="1427.1" y1="547" x2="1430.4" y2="547" stroke="#7a7a7a" stroke-width="0.8"/>
<line x1="1427.1" y1="548.6" x2="1430.4" y2="548.6" stroke="#7a7a7a" stroke-width="0.8"/>
<line x1="1427.1" y1="551.6" x2="1430.4" y2="551.6" stroke="#7a7a7a" stroke-width="0.8"/>
<line x1="1427.1" y1="554" x2="1430.4" y2="554" stroke="#7a7a7a" stroke-width="0.8"/>
<line x1="1427.1" y1="560.4" x2="1430.4" y2="560.4" stroke="#7a7a7a" stroke-width="0.8"/>
<line x1="1427.1" y1="566" x2="1435" y2="566" stroke="#7a7a7a" stroke-width="0.8"/>
<line x1="1427.1" y1="567" x2="1430.4" y2="567" stroke="#7a7a7a" stroke-width="0.8"/>
<line x1="1427.1" y1="570.4" x2="1439.6" y2="570.4" stroke="#7a7a7a" stroke-width="0.8"/>
<line x1="1427.1" y1="571.4" x2="1430.4" y2="571.4" stroke="#7a7a7a" stroke-width="0.8"/>
<line x1="1427.1" y1="573" x2="1430.4" y2="573" stroke="#7a7a7a" stroke-width="0.8"/>
<line x1="1427.1" y1="575.6" x2="1430.4" y2="575.6" stroke="#7a7a7a" stroke-width="0.8"/>
<line x1="1427.1" y1="579.6" x2="1435" y2="579.6" stroke="#7a7a7a" stroke-width="0.8"/>
<line x1="1427.1" y1="582.4" x2="1430.4" y2="582.4" stroke="#7a7a7a" stroke-width="0.8"/>
<line x1="1427.1" y1="584.4" x2="1435" y2="584.4" stroke="#7a7a7a" stroke-width="0.8"/>
<line x1="1427.1" y1="587" x2="1430.4" y2="587" stroke="#7a7a7a" stroke-width="0.8"/>
<line x1="1427.1" y1="589" x2="1430.4" y2="589" stroke="#7a7a7a" stroke-width="0.8"/>
<line x1="1427.1" y1="591" x2="1430.4" y2="591" stroke="#7a7a7a" stroke-width="0.8"/>
<line x1="1427.1" y1="593" x2="1430.4" y2="593" stroke="#7a7a7a" stroke-width="0.8"/>
<line x1="1427.1" y1="594" x2="1430.4" y2="594" stroke="#7a7a7a" stroke-width="0.8"/>
<line x1="1427.1" y1="597.6" x2="1430.4" y2="597.6" stroke="#7a7a7a" stroke-width="0.8"/>
<line x1="1427.1" y1="598.6" x2="1435" y2="598.6" stroke="#7a7a7a" stroke-width="0.8"/>
<line x1="1427.1" y1="601.6" x2="1430.4" y2="601.6" stroke="#7a7a7a" stroke-width="0.8"/>
<line x1="1427.1" y1="602.6" x2="1435" y2="602.6" stroke="#7a7a7a" stroke-width="0.8"/>
<line x1="1427.1" y1="604" x2="1430.4" y2="604" stroke="#7a7a7a" stroke-width="0.8"/>
<line x1="1427.1" y1="606.4" x2="1435" y2="606.4" stroke="#7a7a7a" stroke-width="0.8"/>
<line x1="1427.1" y1="613" x2="1435" y2="613" stroke="#7a7a7a" stroke-width="0.8"/>
<line x1="1427.1" y1="616" x2="1430.4" y2="616" stroke="#7a7a7a" stroke-width="0.8"/>
<line x1="1427.1" y1="618.4" x2="1444" y2="618.4" stroke="#7a7a7a" stroke-width="0.8"/>
<line x1="1427.1" y1="620" x2="1435" y2="620" stroke="#7a7a7a" stroke-width="0.8"/>
<line x1="1427.1" y1="624" x2="1430.4" y2="624" stroke="#7a7a7a" stroke-width="0.8"/>
<line x1="1427.1" y1="625" x2="1435" y2="625" stroke="#7a7a7a" stroke-width="0.8"/>
<line x1="1427.1" y1="628.6" x2="1435" y2="628.6" stroke="#7a7a7a" stroke-width="0.8"/>
<line x1="1427.1" y1="631" x2="1430.4" y2="631" stroke="#7a7a7a" stroke-width="0.8"/>
<line x1="1427.1" y1="633.4" x2="1430.4" y2="633.4" stroke="#7a7a7a" stroke-width="0.8"/>
<line x1="1427.1" y1="637" x2="1430.4" y2="637" stroke="#7a7a7a" stroke-width="0.8"/>
<line x1="1427.1" y1="638" x2="1430.4" y2="638" stroke="#7a7a7a" stroke-width="0.8"/>
<line x1="1427.1" y1="639" x2="1430.4" y2="639" stroke="#7a7a7a" stroke-width="0.8"/>
<line x1="1427.1" y1="642" x2="1430.4" y2="642" stroke="#7a7a7a" stroke-width="0.8"/>
<line x1="1427.1" y1="648" x2="1430.4" y2="648" stroke="#7a7a7a" stroke-width="0.8"/>
<line x1="1427.1" y1="649" x2="1430.4" y2="649" stroke="#7a7a7a" stroke-width="0.8"/>
<line x1="1427.1" y1="654" x2="1430.4" y2="654" stroke="#7a7a7a" stroke-width="0.8"/>
<line x1="1427.1" y1="659.6" x2="1435" y2="659.6" stroke="#7a7a7a" stroke-width="0.8"/>
<line x1="1427.1" y1="642" x2="1430.4" y2="642" stroke="#7a7a7a" stroke-width="0.8"/>
<line x1="1427.1" y1="648" x2="1430.4" y2="648" stroke="#7a7a7a" stroke-width="0.8"/>
<line x1="1427.1" y1="649" x2="1430.4" y2="649" stroke="#7a7a7a" stroke-width="0.8"/>
<line x1="1427.1" y1="653.6" x2="1430.4" y2="653.6" stroke="#7a7a7a" stroke-width="0.8"/>
<line x1="1427.1" y1="660.4" x2="1435" y2="660.4" stroke="#7a7a7a" stroke-width="0.8"/>
<line x1="1427.1" y1="664.6" x2="1430.4" y2="664.6" stroke="#7a7a7a" stroke-width="0.8"/>
<line x1="1427.1" y1="666.6" x2="1430.4" y2="666.6" stroke="#7a7a7a" stroke-width="0.8"/>
<line x1="1427.1" y1="668.6" x2="1430.4" y2="668.6" stroke="#7a7a7a" stroke-width="0.8"/>
<line x1="1427.1" y1="673" x2="1435" y2="673" stroke="#7a7a7a" stroke-width="0.8"/>
<line x1="1427.1" y1="674" x2="1430.4" y2="674" stroke="#7a7a7a" stroke-width="0.8"/>
<line x1="1427.1" y1="675.4" x2="1430.4" y2="675.4" stroke="#7a7a7a" stroke-width="0.8"/>
<line x1="1427.1" y1="678.4" x2="1430.4" y2="678.4" stroke="#7a7a7a" stroke-width="0.8"/>
<line x1="1427.1" y1="687" x2="1430.4" y2="687" stroke="#7a7a7a" stroke-width="0.8"/>
<line x1="1427.1" y1="690" x2="1430.4" y2="690" stroke="#7a7a7a" stroke-width="0.8"/>
<line x1="1427.1" y1="732.6" x2="1445" y2="732.6" stroke="#7a7a7a" stroke-width="0.8"/>
<line x1="1427.1" y1="734.4" x2="1432" y2="734.4" stroke="#7a7a7a" stroke-width="0.8"/>
<text transform="translate(1516.5,765.7) translate(-11.03,0) scale(0.81,1)" style="font-size:23.5px;letter-spacing:1.1px;" fill="#000">20</text>
<line x1="1524.4" y1="169.5" x2="1524.4" y2="753" stroke="#858585" stroke-width="1"/>
<line x1="1523.8" y1="167.6" x2="1546.2" y2="167.6" stroke="#858585" stroke-width="1"/>
<circle cx="1535" cy="211.4" r="2.6" fill="#000"/>
<circle cx="1535" cy="227.4" r="2.6" fill="#000"/>
<circle cx="1535" cy="238.6" r="2.6" fill="#000"/>
<circle cx="1535" cy="255.4" r="2.6" fill="#000"/>
<circle cx="1535" cy="266.4" r="2.6" fill="#000"/>
<circle cx="1535" cy="276" r="2.6" fill="#000"/>
<circle cx="1535" cy="287.4" r="2.6" fill="#000"/>
<circle cx="1535" cy="328.6" r="2.6" fill="#000"/>
<circle cx="1535" cy="349.6" r="2.6" fill="#000"/>
<circle cx="1535" cy="378.4" r="2.6" fill="#000"/>
<circle cx="1535" cy="384.4" r="2.6" fill="#000"/>
<circle cx="1535" cy="388.6" r="2.6" fill="#000"/>
<circle cx="1535" cy="547.4" r="2.6" fill="#000"/>
<circle cx="1535" cy="560" r="2.6" fill="#000"/>
<circle cx="1535" cy="564.4" r="2.6" fill="#000"/>
<circle cx="1535" cy="575.4" r="2.6" fill="#000"/>
<circle cx="1535" cy="586.6" r="2.6" fill="#000"/>
<circle cx="1535" cy="594.6" r="2.6" fill="#000"/>
<circle cx="1535" cy="597" r="2.6" fill="#000"/>
<circle cx="1535" cy="600.6" r="2.6" fill="#000"/>
<circle cx="1535" cy="616.4" r="2.6" fill="#000"/>
<circle cx="1535" cy="620" r="2.6" fill="#000"/>
<circle cx="1535" cy="623" r="2.6" fill="#000"/>
<circle cx="1535" cy="625.6" r="2.6" fill="#000"/>
<circle cx="1535" cy="659.4" r="2.6" fill="#000"/>
<circle cx="1535" cy="661" r="2.6" fill="#000"/>
<circle cx="1535" cy="673" r="2.6" fill="#000"/>
<circle cx="1535" cy="698" r="2.6" fill="#000"/>
<circle cx="1535" cy="731" r="2.6" fill="#000"/>
<circle cx="1535" cy="733" r="2.6" fill="#000"/>
<rect x="1557.6" y="210.25" width="23" height="3.3" fill="#a9a9a9"/>
<line x1="1557.6" y1="210.25" x2="1580.6" y2="210.25" stroke="#5e5e5e" stroke-width="0.6"/>
<line x1="1557.6" y1="213.55" x2="1580.6" y2="213.55" stroke="#5e5e5e" stroke-width="0.6"/>
<rect x="1557.6" y="237.65" width="23" height="2.9" fill="#a9a9a9"/>
<line x1="1557.6" y1="237.65" x2="1580.6" y2="237.65" stroke="#5e5e5e" stroke-width="0.6"/>
<line x1="1557.6" y1="240.55" x2="1580.6" y2="240.55" stroke="#5e5e5e" stroke-width="0.6"/>
<rect x="1557.6" y="244.65" width="23" height="2.9" fill="#a9a9a9"/>
<line x1="1557.6" y1="244.65" x2="1580.6" y2="244.65" stroke="#5e5e5e" stroke-width="0.6"/>
<line x1="1557.6" y1="247.55" x2="1580.6" y2="247.55" stroke="#5e5e5e" stroke-width="0.6"/>
<rect x="1557.6" y="253.25" width="23" height="3.3" fill="#a9a9a9"/>
<line x1="1557.6" y1="253.25" x2="1580.6" y2="253.25" stroke="#5e5e5e" stroke-width="0.6"/>
<line x1="1557.6" y1="256.55" x2="1580.6" y2="256.55" stroke="#5e5e5e" stroke-width="0.6"/>
<rect x="1557.6" y="262.65" width="23" height="3.9" fill="#a9a9a9"/>
<line x1="1557.6" y1="262.65" x2="1580.6" y2="262.65" stroke="#5e5e5e" stroke-width="0.6"/>
<line x1="1557.6" y1="266.55" x2="1580.6" y2="266.55" stroke="#5e5e5e" stroke-width="0.6"/>
<rect x="1557.6" y="272.65" width="23" height="4.9" fill="#a9a9a9"/>
<line x1="1557.6" y1="272.65" x2="1580.6" y2="272.65" stroke="#5e5e5e" stroke-width="0.6"/>
<line x1="1557.6" y1="277.55" x2="1580.6" y2="277.55" stroke="#5e5e5e" stroke-width="0.6"/>
<line x1="1557.6" y1="275.1" x2="1580.6" y2="275.1" stroke="#5a5a5a" stroke-width="0.7"/>
<rect x="1557.6" y="287.25" width="23" height="5.3" fill="#a9a9a9"/>
<line x1="1557.6" y1="287.25" x2="1580.6" y2="287.25" stroke="#5e5e5e" stroke-width="0.6"/>
<line x1="1557.6" y1="292.55" x2="1580.6" y2="292.55" stroke="#5e5e5e" stroke-width="0.6"/>
<line x1="1557.6" y1="289.9" x2="1580.6" y2="289.9" stroke="#5a5a5a" stroke-width="0.7"/>
<rect x="1557.6" y="358.25" width="23" height="2.9" fill="#a9a9a9"/>
<line x1="1557.6" y1="358.25" x2="1580.6" y2="358.25" stroke="#5e5e5e" stroke-width="0.6"/>
<line x1="1557.6" y1="361.15" x2="1580.6" y2="361.15" stroke="#5e5e5e" stroke-width="0.6"/>
<rect x="1557.6" y="393.25" width="23" height="2.9" fill="#a9a9a9"/>
<line x1="1557.6" y1="393.25" x2="1580.6" y2="393.25" stroke="#5e5e5e" stroke-width="0.6"/>
<line x1="1557.6" y1="396.15" x2="1580.6" y2="396.15" stroke="#5e5e5e" stroke-width="0.6"/>
<rect x="1557.6" y="536.65" width="23" height="2.3" fill="#a9a9a9"/>
<line x1="1557.6" y1="536.65" x2="1580.6" y2="536.65" stroke="#5e5e5e" stroke-width="0.6"/>
<line x1="1557.6" y1="538.95" x2="1580.6" y2="538.95" stroke="#5e5e5e" stroke-width="0.6"/>
<rect x="1557.6" y="546.65" width="23" height="2.5" fill="#a9a9a9"/>
<line x1="1557.6" y1="546.65" x2="1580.6" y2="546.65" stroke="#5e5e5e" stroke-width="0.6"/>
<line x1="1557.6" y1="549.15" x2="1580.6" y2="549.15" stroke="#5e5e5e" stroke-width="0.6"/>
<rect x="1557.6" y="558.85" width="23" height="2.3" fill="#a9a9a9"/>
<line x1="1557.6" y1="558.85" x2="1580.6" y2="558.85" stroke="#5e5e5e" stroke-width="0.6"/>
<line x1="1557.6" y1="561.15" x2="1580.6" y2="561.15" stroke="#5e5e5e" stroke-width="0.6"/>
<rect x="1557.6" y="572.65" width="23" height="2.3" fill="#a9a9a9"/>
<line x1="1557.6" y1="572.65" x2="1580.6" y2="572.65" stroke="#5e5e5e" stroke-width="0.6"/>
<line x1="1557.6" y1="574.95" x2="1580.6" y2="574.95" stroke="#5e5e5e" stroke-width="0.6"/>
<rect x="1557.6" y="596.85" width="23" height="4.3" fill="#a9a9a9"/>
<line x1="1557.6" y1="596.85" x2="1580.6" y2="596.85" stroke="#5e5e5e" stroke-width="0.6"/>
<line x1="1557.6" y1="601.15" x2="1580.6" y2="601.15" stroke="#5e5e5e" stroke-width="0.6"/>
<line x1="1557.6" y1="599" x2="1580.6" y2="599" stroke="#5a5a5a" stroke-width="0.7"/>
<rect x="1557.6" y="629.25" width="23" height="3.9" fill="#a9a9a9"/>
<line x1="1557.6" y1="629.25" x2="1580.6" y2="629.25" stroke="#5e5e5e" stroke-width="0.6"/>
<line x1="1557.6" y1="633.15" x2="1580.6" y2="633.15" stroke="#5e5e5e" stroke-width="0.6"/>
<rect x="1557.6" y="679.25" width="23" height="2.7" fill="#a9a9a9"/>
<line x1="1557.6" y1="679.25" x2="1580.6" y2="679.25" stroke="#5e5e5e" stroke-width="0.6"/>
<line x1="1557.6" y1="681.95" x2="1580.6" y2="681.95" stroke="#5e5e5e" stroke-width="0.6"/>
<rect x="1557.6" y="712.65" width="23" height="2.9" fill="#a9a9a9"/>
<line x1="1557.6" y1="712.65" x2="1580.6" y2="712.65" stroke="#5e5e5e" stroke-width="0.6"/>
<line x1="1557.6" y1="715.55" x2="1580.6" y2="715.55" stroke="#5e5e5e" stroke-width="0.6"/>
<rect x="1557.6" y="723.25" width="23" height="2.3" fill="#a9a9a9"/>
<line x1="1557.6" y1="723.25" x2="1580.6" y2="723.25" stroke="#5e5e5e" stroke-width="0.6"/>
<line x1="1557.6" y1="725.55" x2="1580.6" y2="725.55" stroke="#5e5e5e" stroke-width="0.6"/>
<rect x="1557.6" y="734.25" width="23" height="2.9" fill="#a9a9a9"/>
<line x1="1557.6" y1="734.25" x2="1580.6" y2="734.25" stroke="#5e5e5e" stroke-width="0.6"/>
<line x1="1557.6" y1="737.15" x2="1580.6" y2="737.15" stroke="#5e5e5e" stroke-width="0.6"/>
<line x1="1557.6" y1="169.5" x2="1557.6" y2="753" stroke="#707070" stroke-width="1"/>
<line x1="1580.6" y1="169.5" x2="1580.6" y2="754.6" stroke="#707070" stroke-width="1"/>
<line x1="1732.7" y1="171" x2="1732.7" y2="754.5" stroke="#8c8c8c" stroke-width="1"/>
<line x1="1765" y1="171" x2="1765" y2="754.5" stroke="#8c8c8c" stroke-width="1"/>
<line x1="1732.7" y1="518" x2="1765" y2="518" stroke="#8c8c8c" stroke-width="1"/>
<rect x="1929" y="170.5" width="33.3" height="573" fill="#FCB876"/>
<rect x="1886.8" y="384.8" width="75.5" height="10.7" fill="#7EC8DF"/>
<rect x="1886.8" y="459.4" width="75.5" height="10.7" fill="#7EC8DF"/>
<rect x="1886.8" y="170.5" width="75.5" height="12.6" fill="#7EC8DF"/>
<rect x="1886.8" y="277.9" width="75.5" height="10.5" fill="#7EC8DF"/>
<line x1="1767.5" y1="744.2" x2="1986.3" y2="744.2" stroke="#8c8c8c" stroke-width="1"/>
<line x1="1768.2" y1="744.2" x2="1768.2" y2="748.6" stroke="#8c8c8c" stroke-width="0.9"/>
<line x1="1790.07" y1="744.2" x2="1790.07" y2="748.6" stroke="#8c8c8c" stroke-width="0.9"/>
<line x1="1811.94" y1="744.2" x2="1811.94" y2="748.6" stroke="#8c8c8c" stroke-width="0.9"/>
<line x1="1833.81" y1="744.2" x2="1833.81" y2="748.6" stroke="#8c8c8c" stroke-width="0.9"/>
<line x1="1855.68" y1="744.2" x2="1855.68" y2="748.6" stroke="#8c8c8c" stroke-width="0.9"/>
<line x1="1877.55" y1="744.2" x2="1877.55" y2="748.6" stroke="#8c8c8c" stroke-width="0.9"/>
<line x1="1899.42" y1="744.2" x2="1899.42" y2="748.6" stroke="#8c8c8c" stroke-width="0.9"/>
<line x1="1921.29" y1="744.2" x2="1921.29" y2="748.6" stroke="#8c8c8c" stroke-width="0.9"/>
<line x1="1943.16" y1="744.2" x2="1943.16" y2="748.6" stroke="#8c8c8c" stroke-width="0.9"/>
<line x1="1965.03" y1="744.2" x2="1965.03" y2="748.6" stroke="#8c8c8c" stroke-width="0.9"/>
<line x1="1986.9" y1="744.2" x2="1986.9" y2="748.6" stroke="#8c8c8c" stroke-width="0.9"/>
<polyline points="1948.43,189.21 1947.62,194.89 1944.37,198.94 1948.43,202.19 1949.24,208.68 1951.68,212.73 1950.86,218.41 1938.7,222.47 1944.37,226.53 1948.43,231.39 1945.19,241.94 1948.43,244.37 1958.98,250.86 1963.85,252.49 1957.36,254.11 1945.19,256.54 1946,262.22 1952.49,267.09 1958.17,271.15 1953.3,274.39 1948.43,277.64 1936.26,280.88 1936.26,281.62 1944.37,284.06 1954.11,291.36 1957.36,296.23 1955.73,301.9 1946,309.21 1950.86,314.89 1953.3,323.81 1946,328.68 1947.62,331.92 1950.05,340.04 1948.43,344.9 1952.49,349.77 1948.43,355.45 1934.64,357.88 1941.13,364.37 1943.56,368.43 1934.64,374.11 1931.39,382.22 1930.91,396.83 1937.88,397.15 1931.39,403.32 1921.66,406.56 1919.51,415.28 1921.13,419.34 1923.56,425.02 1913.02,429.89 1909.77,435.56 1911.39,443.68 1916.26,450.98 1907.34,454.22 1904.9,459.09 1900.85,464.77 1902.47,478.56 1885.43,483.43 1888.68,494.79 1901.66,500.47 1909.77,506.96 1878.13,512.64 1877.9,512.3 1885.2,513.11 1826.79,517.17 1827.6,520.41 1833.28,522.85 1832.47,525.28 1826.79,527.72 1828.41,529.34 1820.3,535.02 1817.06,537.45 1818.68,539.4 1834.9,542.32 1834.9,543.94 1822.73,547.19 1823.55,549.62 1831.66,551.24 1831.66,553.35 1821.92,556.6 1821.6,558.55 1828.41,560.49 1828.41,562.12 1811.86,566.33 1812.51,568.28 1826.79,569.9 1829.22,571.53 1821.92,575.1 1818.68,579.64 1812.51,580.45 1812.51,582.88 1834.9,585.32 1834.9,586.94 1818.68,590.19 1830.04,591 1830.04,592.62 1820.3,597.49 1797.91,599.92 1797.91,602.36 1813,605.6 1799.21,608.85 1798.4,612.09 1792.72,615.01 1792.72,616.96 1815.43,618.58 1815.43,621.01 1834.09,624.26 1834.9,626.69 1852.75,629.94 1854.37,631.56 1852.47,630.68 1871.13,634.74 1875.19,638.79 1862.21,642.04 1861.39,644.47 1850.85,647.72 1837.87,659.07 1838.68,664.75 1856.53,668 1863.02,672.06 1874.37,676.11 1887.36,677.73 1882.49,688.28 1905.2,691.53 1905.2,693.96 1854.09,701.26 1854.09,703.7 1887.36,706.13 1888.17,712.62 1880.05,716.68 1879.24,723.17 1888.98,728.85 1898.71,730.47 1898.71,732.9 1869.51,735.34 1843.55,740.2" fill="none" stroke="#8c8c8c" stroke-width="2" stroke-linejoin="round"/>
<polyline points="1935.94,175.74 1914.36,179.47 1915.17,180.77 1933.83,183.2 1935.94,185.96 1951.68,188.88 1948.43,194.89 1948.43,198.94 1950.05,207.06 1949.57,211.92 1952.49,216.79 1949.24,220.85 1950.05,223.28 1953.79,226.53 1952.81,229.77 1957.36,232.21 1955.73,237.07 1948.43,241.13 1948.43,243.56 1961.9,246.81 1961.41,249.24 1958.17,250.86 1957.36,253.3 1946.81,256.54 1947.62,258.98 1953.3,261.41 1954.92,266.28 1956.54,268.71 1952.81,270.34 1952.49,273.58 1948.92,276.83 1941.94,280.4 1943.56,283.32 1947.62,285.75 1947.62,284.87 1948.43,286.81 1958.65,289.74 1960.6,296.23 1950.05,299.47 1949.24,301.42 1936.26,304.34 1936.26,306.77 1943.56,308.88 1944.05,311.64 1950.05,314.89 1950.05,318.13 1954.6,319.75 1953.79,323 1950.05,325.43 1950.05,327.38 1958.49,328.68 1958.17,331.11 1946,334.36 1946,336.79 1943.56,338.09 1941.13,342.47 1941.13,344.9 1949.24,348.15 1949.24,351.39 1953.79,353.02 1953.3,354.64 1945.19,357.07 1944.37,359.51 1934.64,361.94 1933.83,370.05 1946,372.16 1946,374.43 1930.58,377.36 1930.91,381.41 1934.96,382.55 1933.83,385.47 1928.96,388.39 1920.85,391.63 1921.66,393.58 1927.34,396.01 1928.15,400.07 1931.07,401.69 1924.09,405.75 1922.75,406.36 1923.56,408.79 1928.43,410.41 1927.62,414.47 1921.13,416.9 1924.37,420.96 1916.26,425.02 1917.07,428.26 1926,430.7 1925.19,433.94 1921.13,436.38 1909.77,438.81 1909.77,442.06 1904.09,444.49 1904.9,447.73 1909.77,449.36 1909.77,452.6 1914.64,454.22 1913.83,457.47 1910.58,459.9 1909.77,466.39 1901.66,466.39 1901.66,469.64 1920.32,473.7 1920.32,476.13 1906.53,478.56 1905.71,485.86 1878.94,488.3 1878.94,490.73 1892.73,493.17 1892.73,495.6 1904.09,497.22 1904.9,500.47 1913.83,502.9 1913.02,506.96 1910.58,510.2 1885.43,514.26 1885.53,515.06 1831.66,517.66 1831.66,520.41 1850.32,522.04 1850.32,524.8 1838.96,526.9 1838.15,529.66 1821.6,531.77 1821.11,534.21 1826.79,536.64 1826.79,539.07 1849.18,541.02 1850.32,543.94 1853.56,547.51 1848.7,551.24 1847.88,553.68 1832.47,556.6 1832.47,558.55 1838.15,560.98 1837.82,563.74 1823.55,566.33 1823.55,569.09 1830.85,570.71 1831.33,573.15 1849.51,575.58 1849.51,578.02 1821.11,580.45 1821.11,583.21 1849.83,585.32 1849.83,587.75 1816.24,590.19 1816.24,592.62 1825.98,594.24 1825.17,599.11 1822.73,602.36 1803.26,604.79 1803.26,607.22 1817.06,609.17 1817.06,612.09 1850.8,614.52 1850.8,616.96 1828.41,620.53 1828.41,622.15 1843.02,624.26 1843.02,626.69 1843.55,625.81 1854.9,629.06 1854.9,631.17 1872.75,633.92 1873.56,641.23 1877.3,642.85 1876.81,646.09 1866.26,649.34 1820.83,652.91 1820.83,655.34 1847.6,657.45 1847.6,661.02 1845.17,662.32 1845.17,664.75 1871.94,667.51 1873.56,672.87 1877.62,675.3 1887.36,677.25 1887.36,680.17 1876.81,681.79 1876.81,684.22 1882.49,686.66 1891.9,687.47 1891.41,689.9 1887.36,691.53 1887.03,694.77 1890.92,696.07 1890.6,698.83 1876,701.26 1876,704.51 1887.03,706.13 1887.03,709.37 1883.79,711 1883.79,713.43 1888.17,715.05 1893.85,716.68 1893.52,718.79 1881.19,720.73 1881.19,726.41 1883.3,727.22 1888.98,731.28 1888.98,732.42 1874.37,735.66 1874.37,737.77 1850.04,740.53" fill="none" stroke="#000000" stroke-width="2.3" stroke-linejoin="round"/>
<rect x="1886.8" y="384.8" width="75.5" height="10.7" fill="#7EC8DF" fill-opacity="0.82"/>
<rect x="1886.8" y="459.4" width="75.5" height="10.7" fill="#7EC8DF" fill-opacity="0.82"/>
<rect x="1887.9" y="517.9" width="74.4" height="115.8" fill="#7EC8DF"/>
<text transform="translate(32.5,154.5) rotate(-45) scale(0.87,1)" style="font-size:22.5px;letter-spacing:1.3px;" fill="#000">Depth (cm)</text>
<text transform="translate(104,154.5) rotate(-45) scale(0.87,1)" style="font-size:22.5px;letter-spacing:1.17px;" fill="#000">Age cal BP</text>
<text transform="translate(147,160) rotate(-45) scale(0.93,1)" style="font-size:22.5px;letter-spacing:0.29px;font-style:italic;" fill="#000">Betula-Acer-Juniperus</text>
<text transform="translate(182.5,160) rotate(-45) scale(0.87,1)" style="font-size:22.5px;letter-spacing:1.18px;" fill="#000">woodland</text>
<text transform="translate(221,160) rotate(-45) scale(0.93,1)" style="font-size:22.5px;letter-spacing:2.6px;font-style:italic;" fill="#000">Pinus</text>
<text transform="translate(462.5,159) rotate(-45) scale(0.93,1)" style="font-size:22.5px;letter-spacing:2.6px;font-style:italic;" fill="#000">Abies</text>
<text transform="translate(507,157.5) rotate(-45) scale(0.93,1)" style="font-size:22.5px;letter-spacing:0.76px;font-style:italic;" fill="#000">Tilia</text>
<text transform="translate(549,157) rotate(-45) scale(0.87,1)" style="font-size:22.5px;letter-spacing:0.22px;" fill="#000">Broadleaf deciduous</text>
<text transform="translate(993.5,156.5) rotate(-45) scale(0.87,1)" style="font-size:22.5px;letter-spacing:0.91px;" fill="#000">Steppe</text>
<text transform="translate(1138,157) rotate(-45) scale(0.87,1)" style="font-size:22.5px;letter-spacing:1.67px;" fill="#000">Poaceae</text>
<text transform="translate(1262.2,155.3) rotate(-45) scale(0.75,1)" style="font-size:22.5px;" fill="#000">charcoal</text>
<text transform="translate(1294.3,161.2) rotate(-45) scale(0.78,1)" style="font-size:22.5px;" fill="#000">accumulation rate</text>
<text transform="translate(1384,157.5) rotate(-45) scale(0.7758,1)" style="font-size:22.5px" fill="#000">particles<tspan style="letter-spacing:4.32px"> </tspan><tspan style="letter-spacing:2.48px">(&gt;1 mm)</tspan></text>
<text transform="translate(1438.5,157) rotate(-45) scale(0.79,1)" style="font-size:22.5px;" fill="#000">particles</text>
<text transform="translate(1474.5,160) rotate(-45) scale(0.85,1)" style="font-size:22.5px;letter-spacing:1.46px;" fill="#000">(0.5-0.99 mm)</text>
<text transform="translate(1534.5,155.5) rotate(-45) scale(0.85,1)" style="font-size:22.5px;" fill="#000">fire episodes</text>
<text transform="translate(1569,157.5) rotate(-45) scale(0.85,1)" style="font-size:22.5px;" fill="#000">tephra</text>
<text transform="translate(808.75,157.8) scale(0.84,1)" style="font-size:22.5px;letter-spacing:1.28px;" fill="#000">AP / NAP</text>
<text transform="translate(1591,256) scale(1.05,1)" style="font-size:17.6px;font-style:italic;" fill="#000">Intense fire and</text>
<text transform="translate(1591,278) scale(1.06,1)" style="font-size:17.6px;font-style:italic;" fill="#000">volcanic activity</text>
<text transform="translate(1591,587.6) scale(1.05,1)" style="font-size:17.6px;font-style:italic;" fill="#000">Intense fire and</text>
<text transform="translate(1591,609.6) scale(1.06,1)" style="font-size:17.6px;font-style:italic;" fill="#000">volcanic activity</text>
<text transform="translate(1586,393) scale(1.05,1)" style="font-size:14.8px;font-style:italic;" fill="#000">Eruption-fire episode</text>
<text transform="translate(1586,734) scale(1.05,1)" style="font-size:14.8px;font-style:italic;" fill="#000">Eruption-fire episode</text>
<text transform="translate(1730.3,141.9) scale(0.83,1)" style="font-size:21.5px;" fill="#000">Climate</text>
<text transform="scale(0.82,1)" text-anchor="middle" style="font-size:18.6px" fill="#000"><tspan x="2134.39" y="203.75">E</tspan><tspan x="2134.39" y="222.5">A</tspan><tspan x="2134.39" y="241.25">R</tspan><tspan x="2134.39" y="260">L</tspan><tspan x="2134.39" y="278.75">Y</tspan></text>
<text transform="scale(0.82,1)" text-anchor="middle" style="font-size:18.6px" fill="#000"><tspan x="2134.39" y="310">H</tspan><tspan x="2134.39" y="328.75">O</tspan><tspan x="2134.39" y="347.5">L</tspan><tspan x="2134.39" y="366.25">O</tspan><tspan x="2134.39" y="385">C</tspan><tspan x="2134.39" y="403.75">E</tspan><tspan x="2134.39" y="422.5">N</tspan><tspan x="2134.39" y="441.25">E</tspan></text>
<text transform="scale(0.82,1)" text-anchor="middle" style="font-size:18.6px" fill="#000"><tspan x="2134.39" y="546.25">L</tspan><tspan x="2134.39" y="565">A</tspan><tspan x="2134.39" y="583.75">T</tspan><tspan x="2134.39" y="602.5">E</tspan></text>
<text transform="scale(0.82,1)" text-anchor="middle" style="font-size:18.6px" fill="#000"><tspan x="2134.39" y="633.5">G</tspan><tspan x="2134.39" y="652.25">L</tspan><tspan x="2134.39" y="671">A</tspan><tspan x="2134.39" y="689.75">C</tspan><tspan x="2134.39" y="708.5">I</tspan><tspan x="2134.39" y="727.25">A</tspan><tspan x="2134.39" y="746">L</tspan></text>
<text transform="translate(1791,172.25) scale(0.82,1)" style="font-size:18.8px;" fill="#000">Bond event 5</text>
<text transform="translate(1788.3,194.7) scale(0.82,1)" style="font-size:18.8px;" fill="#000">8.2 kyr cal BP</text>
<text transform="translate(1791,272.5) scale(0.82,1)" style="font-size:18.8px;" fill="#000">Bond event 6</text>
<text transform="translate(1788.3,295.5) scale(0.82,1)" style="font-size:18.8px;" fill="#000">9.3 kyr cal BP</text>
<text transform="translate(1787.5,380) scale(0.82,1)" style="font-size:18.8px;" fill="#000">Bond event 7</text>
<text transform="translate(1781.7,403) scale(0.81,1)" style="font-size:18.8px;" fill="#000">10.3 kyr cal BP</text>
<text transform="translate(1787.5,457) scale(0.82,1)" style="font-size:18.8px;" fill="#000">Bond event 8</text>
<text transform="translate(1781.7,480) scale(0.82,1)" style="font-size:18.8px;" fill="#000">11.1 kyr cal BP</text>
<text transform="translate(1897.2,573) scale(0.81,1)" style="font-size:18.8px;" fill="#000">Younger</text>
<text transform="translate(1912.5,595.5) scale(0.84,1)" style="font-size:18.8px;" fill="#000">Dryas</text>
<text transform="translate(1864.3,664.5) scale(0.8,1)" style="font-size:18.8px;" fill="#000">Bølling-Allerød</text>
<text transform="translate(1785.5,766.8) translate(-12.22,0) scale(0.73,1)" style="font-size:23px;" fill="#000">-42</text>
<text transform="translate(1830,766.8) translate(-12.22,0) scale(0.73,1)" style="font-size:23px;" fill="#000">-40</text>
<text transform="translate(1873.75,766.8) translate(-12.22,0) scale(0.73,1)" style="font-size:23px;" fill="#000">-38</text>
<text transform="translate(1917.5,766.8) translate(-12.22,0) scale(0.73,1)" style="font-size:23px;" fill="#000">-36</text>
<text transform="translate(1962,766.8) translate(-12.22,0) scale(0.73,1)" style="font-size:23px;" fill="#000">-34</text>
<text transform="translate(1765,705.5) scale(0.81,1)" style="font-size:18.8px" fill="#000">GISP2 d<tspan dy="-7" style="font-size:14px"> 18</tspan><tspan dy="7"> O</tspan></text>
<text transform="translate(1772,730.25) scale(0.81,1)" style="font-size:18.8px" fill="#808080">GRIP d<tspan dy="-7" style="font-size:14px"> 18</tspan><tspan dy="7"> O</tspan></text>
<text transform="translate(1329,791.8) scale(0.76,1)" style="font-size:23px" fill="#000">cm<tspan dy="-9.5" style="font-size:16px">-2</tspan><tspan dy="9.5"> yr</tspan><tspan dy="-9.5" style="font-size:16px">-1</tspan></text>
</svg>
</body></html>
